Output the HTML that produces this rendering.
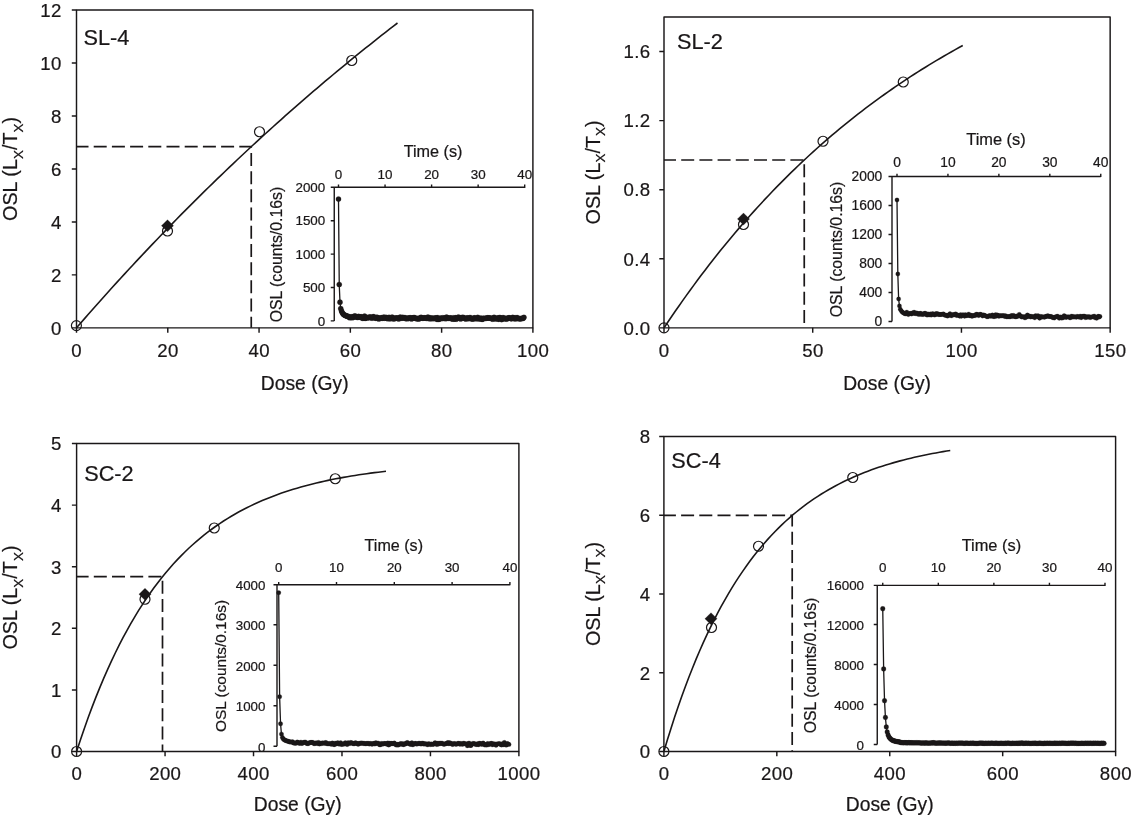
<!DOCTYPE html>
<html lang="en">
<head>
<meta charset="utf-8">
<title>OSL dose response curves</title>
<style>
html,body{margin:0;padding:0;background:#fff;}
body{width:1131px;height:816px;overflow:hidden;}
svg{display:block;}
</style>
</head>
<body>
<svg width="1131" height="816" viewBox="0 0 1131 816" font-family="'Liberation Sans', sans-serif" fill="#1a1718" stroke="#1a1718" stroke-width="0.22" stroke-linejoin="round">
<rect width="1131" height="816" fill="#fff" stroke="none"/>
<g>
<rect x="76.5" y="10" width="456.4" height="317.85" fill="none" stroke="#1a1718" stroke-width="1.45"/>
<text x="61.7" y="334.65" font-size="18.6" text-anchor="end" letter-spacing="0.4">0</text>
<text x="61.7" y="281.68" font-size="18.6" text-anchor="end" letter-spacing="0.4">2</text>
<text x="61.7" y="228.7" font-size="18.6" text-anchor="end" letter-spacing="0.4">4</text>
<text x="61.7" y="175.73" font-size="18.6" text-anchor="end" letter-spacing="0.4">6</text>
<text x="61.7" y="122.75" font-size="18.6" text-anchor="end" letter-spacing="0.4">8</text>
<text x="61.7" y="69.78" font-size="18.6" text-anchor="end" letter-spacing="0.4">10</text>
<text x="61.7" y="16.8" font-size="18.6" text-anchor="end" letter-spacing="0.4">12</text>
<text x="76.7" y="357.05" font-size="18.6" text-anchor="middle" letter-spacing="0.4">0</text>
<text x="167.98" y="357.05" font-size="18.6" text-anchor="middle" letter-spacing="0.4">20</text>
<text x="259.26" y="357.05" font-size="18.6" text-anchor="middle" letter-spacing="0.4">40</text>
<text x="350.54" y="357.05" font-size="18.6" text-anchor="middle" letter-spacing="0.4">60</text>
<text x="441.82" y="357.05" font-size="18.6" text-anchor="middle" letter-spacing="0.4">80</text>
<text x="533.1" y="357.05" font-size="18.6" text-anchor="middle" letter-spacing="0.4">100</text>
<path d="M76.5 327.85h-4.7M76.5 274.88h-4.7M76.5 221.9h-4.7M76.5 168.93h-4.7M76.5 115.95h-4.7M76.5 62.98h-4.7M76.5 10h-4.7M76.5 327.85v4.8M167.78 327.85v4.8M259.06 327.85v4.8M350.34 327.85v4.8M441.62 327.85v4.8M532.9 327.85v4.8" stroke="#1a1718" stroke-width="1.45" fill="none"/>
<text x="304.7" y="389.75" font-size="19.3" text-anchor="middle">Dose (Gy)</text>
<text transform="translate(17.2 168.93) rotate(-90)" font-size="19.8" text-anchor="middle">OSL (L<tspan font-size="13.5" dy="5.3">X</tspan><tspan dy="-5.3">/T</tspan><tspan font-size="13.5" dy="5.3">X</tspan><tspan dy="-5.3">)</tspan></text>
<text x="83.5" y="44.5" font-size="21.7" text-anchor="start">SL-4</text>
<path d="M76.5 146.7H251.25V327.85" stroke="#1a1718" stroke-width="1.7" fill="none" stroke-dasharray="13 5.2" stroke-dashoffset="1"/>
<polyline points="76.5,327.85 80.51,323.23 84.53,318.63 88.54,314.05 92.55,309.49 96.56,304.96 100.58,300.46 104.59,295.97 108.6,291.51 112.61,287.07 116.62,282.65 120.64,278.25 124.65,273.88 128.66,269.53 132.68,265.2 136.69,260.89 140.7,256.61 144.71,252.35 148.72,248.1 152.74,243.88 156.75,239.68 160.76,235.51 164.78,231.35 168.79,227.21 172.8,223.1 176.81,219 180.82,214.93 184.84,210.88 188.85,206.85 192.86,202.83 196.88,198.84 200.89,194.87 204.9,190.92 208.91,186.99 212.93,183.08 216.94,179.19 220.95,175.31 224.96,171.46 228.97,167.63 232.99,163.81 237,160.02 241.01,156.25 245.03,152.49 249.04,148.75 253.05,145.03 257.06,141.34 261.07,137.65 265.09,133.99 269.1,130.35 273.11,126.72 277.12,123.12 281.14,119.53 285.15,115.96 289.16,112.41 293.18,108.87 297.19,105.36 301.2,101.86 305.21,98.38 309.23,94.91 313.24,91.47 317.25,88.04 321.26,84.63 325.27,81.23 329.29,77.86 333.3,74.5 337.31,71.16 341.32,67.83 345.34,64.52 349.35,61.23 353.36,57.95 357.38,54.7 361.39,51.45 365.4,48.23 369.41,45.02 373.43,41.82 377.44,38.65 381.45,35.49 385.46,32.34 389.48,29.21 393.49,26.1 397.5,23" fill="none" stroke="#1a1718" stroke-width="1.6"/>
<circle cx="76.4" cy="325.6" r="5" fill="none" stroke="#1a1718" stroke-width="1.2"/>
<circle cx="167.5" cy="231" r="5" fill="none" stroke="#1a1718" stroke-width="1.2"/>
<circle cx="259.5" cy="131.75" r="5" fill="none" stroke="#1a1718" stroke-width="1.2"/>
<circle cx="351.75" cy="60.5" r="5" fill="none" stroke="#1a1718" stroke-width="1.2"/>
<path d="M161.4 225.75L167.5 219.65L173.6 225.75L167.5 231.85Z" fill="#1a1718"/>
</g>
<g>
<rect x="664" y="17" width="446.15" height="310.85" fill="none" stroke="#1a1718" stroke-width="1.45"/>
<text x="650.6" y="334.65" font-size="18.6" text-anchor="end" letter-spacing="0.4">0.0</text>
<text x="650.6" y="265.57" font-size="18.6" text-anchor="end" letter-spacing="0.4">0.4</text>
<text x="650.6" y="196.49" font-size="18.6" text-anchor="end" letter-spacing="0.4">0.8</text>
<text x="650.6" y="127.41" font-size="18.6" text-anchor="end" letter-spacing="0.4">1.2</text>
<text x="650.6" y="58.33" font-size="18.6" text-anchor="end" letter-spacing="0.4">1.6</text>
<text x="664.2" y="357.05" font-size="18.6" text-anchor="middle" letter-spacing="0.4">0</text>
<text x="812.92" y="357.05" font-size="18.6" text-anchor="middle" letter-spacing="0.4">50</text>
<text x="961.64" y="357.05" font-size="18.6" text-anchor="middle" letter-spacing="0.4">100</text>
<text x="1110.36" y="357.05" font-size="18.6" text-anchor="middle" letter-spacing="0.4">150</text>
<path d="M664 327.85h-4.7M664 258.77h-4.7M664 189.69h-4.7M664 120.61h-4.7M664 51.53h-4.7M664 327.85v4.8M812.72 327.85v4.8M961.44 327.85v4.8M1110.16 327.85v4.8" stroke="#1a1718" stroke-width="1.45" fill="none"/>
<text x="887.08" y="389.75" font-size="19.3" text-anchor="middle">Dose (Gy)</text>
<text transform="translate(599.7 172.43) rotate(-90)" font-size="19.8" text-anchor="middle">OSL (L<tspan font-size="13.5" dy="5.3">X</tspan><tspan dy="-5.3">/T</tspan><tspan font-size="13.5" dy="5.3">X</tspan><tspan dy="-5.3">)</tspan></text>
<text x="677" y="48.75" font-size="21.7" text-anchor="start">SL-2</text>
<path d="M664 160H804.25V327.85" stroke="#1a1718" stroke-width="1.7" fill="none" stroke-dasharray="13 5.2" stroke-dashoffset="1"/>
<polyline points="664,327.85 667.73,322.27 671.47,316.76 675.2,311.31 678.94,305.94 682.67,300.63 686.41,295.39 690.14,290.22 693.88,285.11 697.61,280.07 701.34,275.09 705.08,270.17 708.81,265.31 712.55,260.52 716.28,255.78 720.02,251.11 723.75,246.5 727.48,241.94 731.22,237.44 734.95,233 738.69,228.61 742.42,224.28 746.16,220 749.89,215.78 753.62,211.61 757.36,207.49 761.09,203.42 764.83,199.41 768.56,195.45 772.3,191.53 776.03,187.67 779.77,183.85 783.5,180.09 787.23,176.37 790.97,172.69 794.7,169.07 798.44,165.48 802.17,161.95 805.91,158.46 809.64,155.01 813.38,151.61 817.11,148.24 820.84,144.93 824.58,141.65 828.31,138.41 832.05,135.22 835.78,132.06 839.52,128.95 843.25,125.87 846.98,122.84 850.72,119.84 854.45,116.88 858.19,113.96 861.92,111.07 865.66,108.22 869.39,105.41 873.12,102.63 876.86,99.88 880.59,97.17 884.33,94.5 888.06,91.86 891.8,89.25 895.53,86.68 899.27,84.13 903,81.62 906.73,79.14 910.47,76.7 914.2,74.28 917.94,71.89 921.67,69.54 925.41,67.21 929.14,64.91 932.88,62.65 936.61,60.41 940.34,58.19 944.08,56.01 947.81,53.86 951.55,51.73 955.28,49.62 959.02,47.55 962.75,45.5" fill="none" stroke="#1a1718" stroke-width="1.6"/>
<circle cx="664" cy="327.85" r="5" fill="none" stroke="#1a1718" stroke-width="1.2"/>
<circle cx="743.5" cy="224.5" r="5" fill="none" stroke="#1a1718" stroke-width="1.2"/>
<circle cx="823" cy="141.25" r="5" fill="none" stroke="#1a1718" stroke-width="1.2"/>
<circle cx="903.25" cy="82" r="5" fill="none" stroke="#1a1718" stroke-width="1.2"/>
<path d="M737.4 219L743.5 212.9L749.6 219L743.5 225.1Z" fill="#1a1718"/>
</g>
<g>
<rect x="76.6" y="443.5" width="442.3" height="308" fill="none" stroke="#1a1718" stroke-width="1.45"/>
<text x="61.8" y="758.3" font-size="18.6" text-anchor="end" letter-spacing="0.4">0</text>
<text x="61.8" y="696.7" font-size="18.6" text-anchor="end" letter-spacing="0.4">1</text>
<text x="61.8" y="635.1" font-size="18.6" text-anchor="end" letter-spacing="0.4">2</text>
<text x="61.8" y="573.5" font-size="18.6" text-anchor="end" letter-spacing="0.4">3</text>
<text x="61.8" y="511.9" font-size="18.6" text-anchor="end" letter-spacing="0.4">4</text>
<text x="61.8" y="450.3" font-size="18.6" text-anchor="end" letter-spacing="0.4">5</text>
<text x="76.8" y="780.1" font-size="18.6" text-anchor="middle" letter-spacing="0.4">0</text>
<text x="165.26" y="780.1" font-size="18.6" text-anchor="middle" letter-spacing="0.4">200</text>
<text x="253.72" y="780.1" font-size="18.6" text-anchor="middle" letter-spacing="0.4">400</text>
<text x="342.18" y="780.1" font-size="18.6" text-anchor="middle" letter-spacing="0.4">600</text>
<text x="430.64" y="780.1" font-size="18.6" text-anchor="middle" letter-spacing="0.4">800</text>
<text x="519.1" y="780.1" font-size="18.6" text-anchor="middle" letter-spacing="0.4">1000</text>
<path d="M76.6 751.5h-4.7M76.6 689.9h-4.7M76.6 628.3h-4.7M76.6 566.7h-4.7M76.6 505.1h-4.7M76.6 443.5h-4.7M76.6 751.5v4.8M165.06 751.5v4.8M253.52 751.5v4.8M341.98 751.5v4.8M430.44 751.5v4.8M518.9 751.5v4.8" stroke="#1a1718" stroke-width="1.45" fill="none"/>
<text x="297.75" y="810.9" font-size="19.3" text-anchor="middle">Dose (Gy)</text>
<text transform="translate(17.2 597.5) rotate(-90)" font-size="19.8" text-anchor="middle">OSL (L<tspan font-size="13.5" dy="5.3">X</tspan><tspan dy="-5.3">/T</tspan><tspan font-size="13.5" dy="5.3">X</tspan><tspan dy="-5.3">)</tspan></text>
<text x="84.2" y="480.5" font-size="21.7" text-anchor="start">SC-2</text>
<path d="M76.6 576.7H162.5V751.5" stroke="#1a1718" stroke-width="1.7" fill="none" stroke-dasharray="13 5.2" stroke-dashoffset="1"/>
<polyline points="76.6,751.5 80.47,739.71 84.33,728.41 88.2,717.56 92.07,707.15 95.94,697.16 99.8,687.58 103.67,678.38 107.54,669.56 111.41,661.09 115.27,652.97 119.14,645.18 123.01,637.7 126.88,630.52 130.75,623.64 134.61,617.04 138.48,610.7 142.35,604.62 146.21,598.78 150.08,593.19 153.95,587.81 157.82,582.66 161.69,577.72 165.55,572.97 169.42,568.42 173.29,564.05 177.15,559.86 181.02,555.84 184.89,551.98 188.76,548.28 192.62,544.73 196.49,541.32 200.36,538.05 204.23,534.91 208.09,531.9 211.96,529.01 215.83,526.24 219.7,523.58 223.56,521.03 227.43,518.59 231.3,516.24 235.17,513.98 239.03,511.82 242.9,509.75 246.77,507.76 250.64,505.85 254.5,504.01 258.37,502.25 262.24,500.57 266.11,498.95 269.97,497.4 273.84,495.91 277.71,494.48 281.58,493.1 285.44,491.79 289.31,490.52 293.18,489.31 297.05,488.15 300.91,487.03 304.78,485.96 308.65,484.94 312.52,483.95 316.38,483.01 320.25,482.1 324.12,481.23 327.99,480.39 331.85,479.59 335.72,478.82 339.59,478.09 343.46,477.38 347.33,476.7 351.19,476.05 355.06,475.42 358.93,474.82 362.79,474.25 366.66,473.69 370.53,473.16 374.4,472.66 378.26,472.17 382.13,471.7 386,471.25" fill="none" stroke="#1a1718" stroke-width="1.6"/>
<circle cx="76.6" cy="751.5" r="5" fill="none" stroke="#1a1718" stroke-width="1.2"/>
<circle cx="145" cy="599.25" r="5" fill="none" stroke="#1a1718" stroke-width="1.2"/>
<circle cx="214.25" cy="528" r="5" fill="none" stroke="#1a1718" stroke-width="1.2"/>
<circle cx="335.25" cy="478.75" r="5" fill="none" stroke="#1a1718" stroke-width="1.2"/>
<path d="M138.9 594.25L145 588.15L151.1 594.25L145 600.35Z" fill="#1a1718"/>
</g>
<g>
<rect x="663.9" y="436.45" width="451.7" height="315.05" fill="none" stroke="#1a1718" stroke-width="1.45"/>
<text x="650.6" y="758.3" font-size="18.6" text-anchor="end" letter-spacing="0.4">0</text>
<text x="650.6" y="679.54" font-size="18.6" text-anchor="end" letter-spacing="0.4">2</text>
<text x="650.6" y="600.78" font-size="18.6" text-anchor="end" letter-spacing="0.4">4</text>
<text x="650.6" y="522.02" font-size="18.6" text-anchor="end" letter-spacing="0.4">6</text>
<text x="650.6" y="443.26" font-size="18.6" text-anchor="end" letter-spacing="0.4">8</text>
<text x="664.1" y="780.1" font-size="18.6" text-anchor="middle" letter-spacing="0.4">0</text>
<text x="777.03" y="780.1" font-size="18.6" text-anchor="middle" letter-spacing="0.4">200</text>
<text x="889.96" y="780.1" font-size="18.6" text-anchor="middle" letter-spacing="0.4">400</text>
<text x="1002.89" y="780.1" font-size="18.6" text-anchor="middle" letter-spacing="0.4">600</text>
<text x="1115.82" y="780.1" font-size="18.6" text-anchor="middle" letter-spacing="0.4">800</text>
<path d="M663.9 751.5h-4.7M663.9 672.74h-4.7M663.9 593.98h-4.7M663.9 515.22h-4.7M663.9 436.46h-4.7M663.9 751.5v4.8M776.83 751.5v4.8M889.76 751.5v4.8M1002.69 751.5v4.8M1115.62 751.5v4.8" stroke="#1a1718" stroke-width="1.45" fill="none"/>
<text x="889.75" y="810.9" font-size="19.3" text-anchor="middle">Dose (Gy)</text>
<text transform="translate(599.7 593.98) rotate(-90)" font-size="19.8" text-anchor="middle">OSL (L<tspan font-size="13.5" dy="5.3">X</tspan><tspan dy="-5.3">/T</tspan><tspan font-size="13.5" dy="5.3">X</tspan><tspan dy="-5.3">)</tspan></text>
<text x="671.3" y="467.5" font-size="21.7" text-anchor="start">SC-4</text>
<path d="M663.9 515.45H792.2V751.5" stroke="#1a1718" stroke-width="1.7" fill="none" stroke-dasharray="13 5.2" stroke-dashoffset="1"/>
<polyline points="663.9,751.5 667.48,739.59 671.06,728.14 674.64,717.11 678.22,706.51 681.8,696.3 685.38,686.47 688.96,677.02 692.53,667.93 696.11,659.17 699.69,650.75 703.27,642.65 706.85,634.85 710.43,627.34 714.01,620.12 717.59,613.17 721.17,606.49 724.75,600.05 728.33,593.86 731.91,587.9 735.49,582.17 739.07,576.65 742.65,571.35 746.23,566.24 749.8,561.32 753.38,556.59 756.96,552.04 760.54,547.66 764.12,543.44 767.7,539.39 771.28,535.49 774.86,531.73 778.44,528.12 782.02,524.64 785.6,521.29 789.18,518.07 792.76,514.98 796.34,511.99 799.92,509.12 803.5,506.36 807.08,503.71 810.65,501.15 814.23,498.69 817.81,496.32 821.39,494.05 824.97,491.85 828.55,489.74 832.13,487.71 835.71,485.76 839.29,483.88 842.87,482.07 846.45,480.33 850.03,478.66 853.61,477.05 857.19,475.5 860.77,474.01 864.35,472.57 867.92,471.19 871.5,469.86 875.08,468.58 878.66,467.35 882.24,466.16 885.82,465.02 889.4,463.93 892.98,462.87 896.56,461.86 900.14,460.88 903.72,459.94 907.3,459.03 910.88,458.16 914.46,457.32 918.04,456.52 921.62,455.74 925.19,454.99 928.77,454.28 932.35,453.58 935.93,452.92 939.51,452.28 943.09,451.66 946.67,451.07 950.25,450.5" fill="none" stroke="#1a1718" stroke-width="1.6"/>
<circle cx="663.9" cy="751.5" r="5" fill="none" stroke="#1a1718" stroke-width="1.2"/>
<circle cx="711.5" cy="627.5" r="5" fill="none" stroke="#1a1718" stroke-width="1.2"/>
<circle cx="758.5" cy="546.25" r="5" fill="none" stroke="#1a1718" stroke-width="1.2"/>
<circle cx="852.75" cy="477.5" r="5" fill="none" stroke="#1a1718" stroke-width="1.2"/>
<path d="M704.9 618.75L711 612.65L717.1 618.75L711 624.85Z" fill="#1a1718"/>
</g>
<g>
<text x="338.5" y="179.1" font-size="13.4" text-anchor="middle">0</text>
<text x="385.05" y="179.1" font-size="13.4" text-anchor="middle">10</text>
<text x="431.6" y="179.1" font-size="13.4" text-anchor="middle">20</text>
<text x="478.15" y="179.1" font-size="13.4" text-anchor="middle">30</text>
<text x="524.7" y="179.1" font-size="13.4" text-anchor="middle">40</text>
<text x="325.25" y="325.6" font-size="13.4" text-anchor="end">0</text>
<text x="325.25" y="292.2" font-size="13.4" text-anchor="end">500</text>
<text x="325.25" y="258.8" font-size="13.4" text-anchor="end">1000</text>
<text x="325.25" y="225.4" font-size="13.4" text-anchor="end">1500</text>
<text x="325.25" y="192" font-size="13.4" text-anchor="end">2000</text>
<path d="M330.75 187.3H524.7M334.25 187.3V320.9M338.5 187.9v-3.3M385.05 187.9v-3.3M431.6 187.9v-3.3M478.15 187.9v-3.3M524.7 187.9v-3.3M334.25 320.9h-3.5M334.25 287.5h-3.5M334.25 254.1h-3.5M334.25 220.7h-3.5" stroke="#1a1718" stroke-width="1.4" fill="none"/>
<text x="433.1" y="157" font-size="16.2" text-anchor="middle">Time (s)</text>
<text transform="translate(281.5 254.6) rotate(-90)" font-size="15.8" text-anchor="middle">OSL (counts/0.16s)</text>
<polyline points="338.5,198.99 339.24,284.49 339.99,302.2 340.73,308.54 341.48,310.88 342.22,312.55 342.97,313.69 343.71,314.49 344.46,315.02 345.2,315.42 345.95,315.69 346.69,315.96 347.44,316.48 348.18,316.4 348.93,316.78 349.67,317.75 350.42,317.01 351.16,317.53 351.91,316.79 352.65,317.64 353.4,316.52 354.14,316.78 354.89,315.9 355.63,316.74 356.38,316.67 357.12,317.31 357.86,317.51 358.61,316.34 359.35,317.12 360.1,316.91 360.84,317.07 361.59,316.82 362.33,318.26 363.08,318.29 363.82,317.01 364.57,316.05 365.31,318.45 366.06,317.78 366.8,317.27 367.55,317.71 368.29,317.6 369.04,317.68 369.78,316.94 370.53,317.47 371.27,317.4 372.02,318.2 372.76,317.17 373.51,316.59 374.25,317.23 375,317.78 375.74,318.32 376.48,317.37 377.23,317.4 377.97,317.8 378.72,318.98 379.46,318.13 380.21,318.33 380.95,318.23 381.7,317.6 382.44,318.34 383.19,317.9 383.93,317.05 384.68,318.23 385.42,317.85 386.17,317.47 386.91,318.19 387.66,318.7 388.4,317.72 389.15,317.38 389.89,318.87 390.64,318.08 391.38,318.18 392.13,317.19 392.87,318.83 393.62,318.08 394.36,318.78 395.1,318.52 395.85,317.96 396.59,318.18 397.34,318.08 398.08,318.41 398.83,318.9 399.57,317.5 400.32,317.19 401.06,318.05 401.81,318.24 402.55,317.31 403.3,317.77 404.04,317.92 404.79,317.56 405.53,318.58 406.28,318.56 407.02,318.04 407.77,318.74 408.51,318.09 409.26,317.98 410,317.8 410.75,317.84 411.49,318.92 412.24,318.22 412.98,317.96 413.72,317.58 414.47,317.61 415.21,318.32 415.96,318.29 416.7,318.84 417.45,318.45 418.19,318.65 418.94,318.94 419.68,318.38 420.43,317.64 421.17,317.34 421.92,318.05 422.66,318.29 423.41,318.04 424.15,317.79 424.9,317.94 425.64,318.02 426.39,318.36 427.13,318.41 427.88,317.02 428.62,317.68 429.37,318.75 430.11,317.83 430.86,318.7 431.6,318.14 432.34,318.57 433.09,318.13 433.83,318.59 434.58,318.44 435.32,318.02 436.07,317.96 436.81,319.31 437.56,317.61 438.3,319.49 439.05,319.13 439.79,318.6 440.54,318.03 441.28,318.36 442.03,318.62 442.77,317.75 443.52,318.29 444.26,318.35 445.01,317.87 445.75,318.72 446.5,317.12 447.24,317.62 447.99,318.34 448.73,318.3 449.48,318.24 450.22,317.92 450.96,318.1 451.71,318.79 452.45,318.91 453.2,317.73 453.94,319.12 454.69,318.81 455.43,317.69 456.18,319.15 456.92,318.04 457.67,317.75 458.41,317 459.16,317.61 459.9,318.24 460.65,318.93 461.39,317.58 462.14,317.66 462.88,317.47 463.63,317.49 464.37,318.34 465.12,318.55 465.86,318.97 466.61,318.13 467.35,317.9 468.1,318.72 468.84,318.25 469.58,317.83 470.33,317.51 471.07,318.78 471.82,318.51 472.56,318.92 473.31,318.92 474.05,317.92 474.8,317.85 475.54,318.61 476.29,318.52 477.03,318.73 477.78,317.38 478.52,318.73 479.27,318.58 480.01,318.86 480.76,318.03 481.5,318.68 482.25,319.43 482.99,318.26 483.74,318.32 484.48,318.51 485.23,318.37 485.97,318.27 486.72,318.2 487.46,317.78 488.2,318.02 488.95,317.85 489.69,318.03 490.44,318.13 491.18,318.48 491.93,318.38 492.67,319.13 493.42,317.79 494.16,317.28 494.91,318.47 495.65,318.95 496.4,318.24 497.14,318.59 497.89,317.91 498.63,319.32 499.38,317.55 500.12,317.64 500.87,318.18 501.61,319.59 502.36,318.61 503.1,317.58 503.85,318.35 504.59,318.92 505.34,318.35 506.08,318.42 506.82,319.11 507.57,318.47 508.31,317.91 509.06,317.91 509.8,317.87 510.55,318.25 511.29,318.81 512.04,318.47 512.78,317.34 513.53,318.11 514.27,318.02 515.02,319.02 515.76,317.81 516.51,318.33 517.25,317.56 518,318.66 518.74,318.51 519.49,318.59 520.23,318.8 520.98,318.64 521.72,318.38 522.47,318.46 523.21,318.27 523.96,317.37" fill="none" stroke="#1a1718" stroke-width="1.3"/>
<g fill="#1a1718">
<circle cx="338.5" cy="198.99" r="2.6"/>
<circle cx="339.24" cy="284.49" r="2.6"/>
<circle cx="339.99" cy="302.2" r="2.6"/>
<circle cx="340.73" cy="308.54" r="2.6"/>
<circle cx="341.48" cy="310.88" r="2.6"/>
<circle cx="342.22" cy="312.55" r="2.6"/>
<circle cx="342.97" cy="313.69" r="2.6"/>
<circle cx="343.71" cy="314.49" r="2.6"/>
<circle cx="344.46" cy="315.02" r="2.6"/>
<circle cx="345.2" cy="315.42" r="2.6"/>
<circle cx="345.95" cy="315.69" r="2.6"/>
<circle cx="346.69" cy="315.96" r="2.6"/>
<circle cx="347.44" cy="316.48" r="2.6"/>
<circle cx="348.18" cy="316.4" r="2.6"/>
<circle cx="348.93" cy="316.78" r="2.6"/>
<circle cx="349.67" cy="317.75" r="2.6"/>
<circle cx="350.42" cy="317.01" r="2.6"/>
<circle cx="351.16" cy="317.53" r="2.6"/>
<circle cx="351.91" cy="316.79" r="2.6"/>
<circle cx="352.65" cy="317.64" r="2.6"/>
<circle cx="353.4" cy="316.52" r="2.6"/>
<circle cx="354.14" cy="316.78" r="2.6"/>
<circle cx="354.89" cy="315.9" r="2.6"/>
<circle cx="355.63" cy="316.74" r="2.6"/>
<circle cx="356.38" cy="316.67" r="2.6"/>
<circle cx="357.12" cy="317.31" r="2.6"/>
<circle cx="357.86" cy="317.51" r="2.6"/>
<circle cx="358.61" cy="316.34" r="2.6"/>
<circle cx="359.35" cy="317.12" r="2.6"/>
<circle cx="360.1" cy="316.91" r="2.6"/>
<circle cx="360.84" cy="317.07" r="2.6"/>
<circle cx="361.59" cy="316.82" r="2.6"/>
<circle cx="362.33" cy="318.26" r="2.6"/>
<circle cx="363.08" cy="318.29" r="2.6"/>
<circle cx="363.82" cy="317.01" r="2.6"/>
<circle cx="364.57" cy="316.05" r="2.6"/>
<circle cx="365.31" cy="318.45" r="2.6"/>
<circle cx="366.06" cy="317.78" r="2.6"/>
<circle cx="366.8" cy="317.27" r="2.6"/>
<circle cx="367.55" cy="317.71" r="2.6"/>
<circle cx="368.29" cy="317.6" r="2.6"/>
<circle cx="369.04" cy="317.68" r="2.6"/>
<circle cx="369.78" cy="316.94" r="2.6"/>
<circle cx="370.53" cy="317.47" r="2.6"/>
<circle cx="371.27" cy="317.4" r="2.6"/>
<circle cx="372.02" cy="318.2" r="2.6"/>
<circle cx="372.76" cy="317.17" r="2.6"/>
<circle cx="373.51" cy="316.59" r="2.6"/>
<circle cx="374.25" cy="317.23" r="2.6"/>
<circle cx="375" cy="317.78" r="2.6"/>
<circle cx="375.74" cy="318.32" r="2.6"/>
<circle cx="376.48" cy="317.37" r="2.6"/>
<circle cx="377.23" cy="317.4" r="2.6"/>
<circle cx="377.97" cy="317.8" r="2.6"/>
<circle cx="378.72" cy="318.98" r="2.6"/>
<circle cx="379.46" cy="318.13" r="2.6"/>
<circle cx="380.21" cy="318.33" r="2.6"/>
<circle cx="380.95" cy="318.23" r="2.6"/>
<circle cx="381.7" cy="317.6" r="2.6"/>
<circle cx="382.44" cy="318.34" r="2.6"/>
<circle cx="383.19" cy="317.9" r="2.6"/>
<circle cx="383.93" cy="317.05" r="2.6"/>
<circle cx="384.68" cy="318.23" r="2.6"/>
<circle cx="385.42" cy="317.85" r="2.6"/>
<circle cx="386.17" cy="317.47" r="2.6"/>
<circle cx="386.91" cy="318.19" r="2.6"/>
<circle cx="387.66" cy="318.7" r="2.6"/>
<circle cx="388.4" cy="317.72" r="2.6"/>
<circle cx="389.15" cy="317.38" r="2.6"/>
<circle cx="389.89" cy="318.87" r="2.6"/>
<circle cx="390.64" cy="318.08" r="2.6"/>
<circle cx="391.38" cy="318.18" r="2.6"/>
<circle cx="392.13" cy="317.19" r="2.6"/>
<circle cx="392.87" cy="318.83" r="2.6"/>
<circle cx="393.62" cy="318.08" r="2.6"/>
<circle cx="394.36" cy="318.78" r="2.6"/>
<circle cx="395.1" cy="318.52" r="2.6"/>
<circle cx="395.85" cy="317.96" r="2.6"/>
<circle cx="396.59" cy="318.18" r="2.6"/>
<circle cx="397.34" cy="318.08" r="2.6"/>
<circle cx="398.08" cy="318.41" r="2.6"/>
<circle cx="398.83" cy="318.9" r="2.6"/>
<circle cx="399.57" cy="317.5" r="2.6"/>
<circle cx="400.32" cy="317.19" r="2.6"/>
<circle cx="401.06" cy="318.05" r="2.6"/>
<circle cx="401.81" cy="318.24" r="2.6"/>
<circle cx="402.55" cy="317.31" r="2.6"/>
<circle cx="403.3" cy="317.77" r="2.6"/>
<circle cx="404.04" cy="317.92" r="2.6"/>
<circle cx="404.79" cy="317.56" r="2.6"/>
<circle cx="405.53" cy="318.58" r="2.6"/>
<circle cx="406.28" cy="318.56" r="2.6"/>
<circle cx="407.02" cy="318.04" r="2.6"/>
<circle cx="407.77" cy="318.74" r="2.6"/>
<circle cx="408.51" cy="318.09" r="2.6"/>
<circle cx="409.26" cy="317.98" r="2.6"/>
<circle cx="410" cy="317.8" r="2.6"/>
<circle cx="410.75" cy="317.84" r="2.6"/>
<circle cx="411.49" cy="318.92" r="2.6"/>
<circle cx="412.24" cy="318.22" r="2.6"/>
<circle cx="412.98" cy="317.96" r="2.6"/>
<circle cx="413.72" cy="317.58" r="2.6"/>
<circle cx="414.47" cy="317.61" r="2.6"/>
<circle cx="415.21" cy="318.32" r="2.6"/>
<circle cx="415.96" cy="318.29" r="2.6"/>
<circle cx="416.7" cy="318.84" r="2.6"/>
<circle cx="417.45" cy="318.45" r="2.6"/>
<circle cx="418.19" cy="318.65" r="2.6"/>
<circle cx="418.94" cy="318.94" r="2.6"/>
<circle cx="419.68" cy="318.38" r="2.6"/>
<circle cx="420.43" cy="317.64" r="2.6"/>
<circle cx="421.17" cy="317.34" r="2.6"/>
<circle cx="421.92" cy="318.05" r="2.6"/>
<circle cx="422.66" cy="318.29" r="2.6"/>
<circle cx="423.41" cy="318.04" r="2.6"/>
<circle cx="424.15" cy="317.79" r="2.6"/>
<circle cx="424.9" cy="317.94" r="2.6"/>
<circle cx="425.64" cy="318.02" r="2.6"/>
<circle cx="426.39" cy="318.36" r="2.6"/>
<circle cx="427.13" cy="318.41" r="2.6"/>
<circle cx="427.88" cy="317.02" r="2.6"/>
<circle cx="428.62" cy="317.68" r="2.6"/>
<circle cx="429.37" cy="318.75" r="2.6"/>
<circle cx="430.11" cy="317.83" r="2.6"/>
<circle cx="430.86" cy="318.7" r="2.6"/>
<circle cx="431.6" cy="318.14" r="2.6"/>
<circle cx="432.34" cy="318.57" r="2.6"/>
<circle cx="433.09" cy="318.13" r="2.6"/>
<circle cx="433.83" cy="318.59" r="2.6"/>
<circle cx="434.58" cy="318.44" r="2.6"/>
<circle cx="435.32" cy="318.02" r="2.6"/>
<circle cx="436.07" cy="317.96" r="2.6"/>
<circle cx="436.81" cy="319.31" r="2.6"/>
<circle cx="437.56" cy="317.61" r="2.6"/>
<circle cx="438.3" cy="319.49" r="2.6"/>
<circle cx="439.05" cy="319.13" r="2.6"/>
<circle cx="439.79" cy="318.6" r="2.6"/>
<circle cx="440.54" cy="318.03" r="2.6"/>
<circle cx="441.28" cy="318.36" r="2.6"/>
<circle cx="442.03" cy="318.62" r="2.6"/>
<circle cx="442.77" cy="317.75" r="2.6"/>
<circle cx="443.52" cy="318.29" r="2.6"/>
<circle cx="444.26" cy="318.35" r="2.6"/>
<circle cx="445.01" cy="317.87" r="2.6"/>
<circle cx="445.75" cy="318.72" r="2.6"/>
<circle cx="446.5" cy="317.12" r="2.6"/>
<circle cx="447.24" cy="317.62" r="2.6"/>
<circle cx="447.99" cy="318.34" r="2.6"/>
<circle cx="448.73" cy="318.3" r="2.6"/>
<circle cx="449.48" cy="318.24" r="2.6"/>
<circle cx="450.22" cy="317.92" r="2.6"/>
<circle cx="450.96" cy="318.1" r="2.6"/>
<circle cx="451.71" cy="318.79" r="2.6"/>
<circle cx="452.45" cy="318.91" r="2.6"/>
<circle cx="453.2" cy="317.73" r="2.6"/>
<circle cx="453.94" cy="319.12" r="2.6"/>
<circle cx="454.69" cy="318.81" r="2.6"/>
<circle cx="455.43" cy="317.69" r="2.6"/>
<circle cx="456.18" cy="319.15" r="2.6"/>
<circle cx="456.92" cy="318.04" r="2.6"/>
<circle cx="457.67" cy="317.75" r="2.6"/>
<circle cx="458.41" cy="317" r="2.6"/>
<circle cx="459.16" cy="317.61" r="2.6"/>
<circle cx="459.9" cy="318.24" r="2.6"/>
<circle cx="460.65" cy="318.93" r="2.6"/>
<circle cx="461.39" cy="317.58" r="2.6"/>
<circle cx="462.14" cy="317.66" r="2.6"/>
<circle cx="462.88" cy="317.47" r="2.6"/>
<circle cx="463.63" cy="317.49" r="2.6"/>
<circle cx="464.37" cy="318.34" r="2.6"/>
<circle cx="465.12" cy="318.55" r="2.6"/>
<circle cx="465.86" cy="318.97" r="2.6"/>
<circle cx="466.61" cy="318.13" r="2.6"/>
<circle cx="467.35" cy="317.9" r="2.6"/>
<circle cx="468.1" cy="318.72" r="2.6"/>
<circle cx="468.84" cy="318.25" r="2.6"/>
<circle cx="469.58" cy="317.83" r="2.6"/>
<circle cx="470.33" cy="317.51" r="2.6"/>
<circle cx="471.07" cy="318.78" r="2.6"/>
<circle cx="471.82" cy="318.51" r="2.6"/>
<circle cx="472.56" cy="318.92" r="2.6"/>
<circle cx="473.31" cy="318.92" r="2.6"/>
<circle cx="474.05" cy="317.92" r="2.6"/>
<circle cx="474.8" cy="317.85" r="2.6"/>
<circle cx="475.54" cy="318.61" r="2.6"/>
<circle cx="476.29" cy="318.52" r="2.6"/>
<circle cx="477.03" cy="318.73" r="2.6"/>
<circle cx="477.78" cy="317.38" r="2.6"/>
<circle cx="478.52" cy="318.73" r="2.6"/>
<circle cx="479.27" cy="318.58" r="2.6"/>
<circle cx="480.01" cy="318.86" r="2.6"/>
<circle cx="480.76" cy="318.03" r="2.6"/>
<circle cx="481.5" cy="318.68" r="2.6"/>
<circle cx="482.25" cy="319.43" r="2.6"/>
<circle cx="482.99" cy="318.26" r="2.6"/>
<circle cx="483.74" cy="318.32" r="2.6"/>
<circle cx="484.48" cy="318.51" r="2.6"/>
<circle cx="485.23" cy="318.37" r="2.6"/>
<circle cx="485.97" cy="318.27" r="2.6"/>
<circle cx="486.72" cy="318.2" r="2.6"/>
<circle cx="487.46" cy="317.78" r="2.6"/>
<circle cx="488.2" cy="318.02" r="2.6"/>
<circle cx="488.95" cy="317.85" r="2.6"/>
<circle cx="489.69" cy="318.03" r="2.6"/>
<circle cx="490.44" cy="318.13" r="2.6"/>
<circle cx="491.18" cy="318.48" r="2.6"/>
<circle cx="491.93" cy="318.38" r="2.6"/>
<circle cx="492.67" cy="319.13" r="2.6"/>
<circle cx="493.42" cy="317.79" r="2.6"/>
<circle cx="494.16" cy="317.28" r="2.6"/>
<circle cx="494.91" cy="318.47" r="2.6"/>
<circle cx="495.65" cy="318.95" r="2.6"/>
<circle cx="496.4" cy="318.24" r="2.6"/>
<circle cx="497.14" cy="318.59" r="2.6"/>
<circle cx="497.89" cy="317.91" r="2.6"/>
<circle cx="498.63" cy="319.32" r="2.6"/>
<circle cx="499.38" cy="317.55" r="2.6"/>
<circle cx="500.12" cy="317.64" r="2.6"/>
<circle cx="500.87" cy="318.18" r="2.6"/>
<circle cx="501.61" cy="319.59" r="2.6"/>
<circle cx="502.36" cy="318.61" r="2.6"/>
<circle cx="503.1" cy="317.58" r="2.6"/>
<circle cx="503.85" cy="318.35" r="2.6"/>
<circle cx="504.59" cy="318.92" r="2.6"/>
<circle cx="505.34" cy="318.35" r="2.6"/>
<circle cx="506.08" cy="318.42" r="2.6"/>
<circle cx="506.82" cy="319.11" r="2.6"/>
<circle cx="507.57" cy="318.47" r="2.6"/>
<circle cx="508.31" cy="317.91" r="2.6"/>
<circle cx="509.06" cy="317.91" r="2.6"/>
<circle cx="509.8" cy="317.87" r="2.6"/>
<circle cx="510.55" cy="318.25" r="2.6"/>
<circle cx="511.29" cy="318.81" r="2.6"/>
<circle cx="512.04" cy="318.47" r="2.6"/>
<circle cx="512.78" cy="317.34" r="2.6"/>
<circle cx="513.53" cy="318.11" r="2.6"/>
<circle cx="514.27" cy="318.02" r="2.6"/>
<circle cx="515.02" cy="319.02" r="2.6"/>
<circle cx="515.76" cy="317.81" r="2.6"/>
<circle cx="516.51" cy="318.33" r="2.6"/>
<circle cx="517.25" cy="317.56" r="2.6"/>
<circle cx="518" cy="318.66" r="2.6"/>
<circle cx="518.74" cy="318.51" r="2.6"/>
<circle cx="519.49" cy="318.59" r="2.6"/>
<circle cx="520.23" cy="318.8" r="2.6"/>
<circle cx="520.98" cy="318.64" r="2.6"/>
<circle cx="521.72" cy="318.38" r="2.6"/>
<circle cx="522.47" cy="318.46" r="2.6"/>
<circle cx="523.21" cy="318.27" r="2.6"/>
<circle cx="523.96" cy="317.37" r="2.6"/>
</g>
</g>
<g>
<text x="897" y="167.3" font-size="13.8" text-anchor="middle">0</text>
<text x="947.94" y="167.3" font-size="13.8" text-anchor="middle">10</text>
<text x="998.88" y="167.3" font-size="13.8" text-anchor="middle">20</text>
<text x="1049.82" y="167.3" font-size="13.8" text-anchor="middle">30</text>
<text x="1100.76" y="167.3" font-size="13.8" text-anchor="middle">40</text>
<text x="882.3" y="326.2" font-size="13.8" text-anchor="end">0</text>
<text x="882.3" y="297.2" font-size="13.8" text-anchor="end">400</text>
<text x="882.3" y="268.2" font-size="13.8" text-anchor="end">800</text>
<text x="882.3" y="239.2" font-size="13.8" text-anchor="end">1200</text>
<text x="882.3" y="210.2" font-size="13.8" text-anchor="end">1600</text>
<text x="882.3" y="181.2" font-size="13.8" text-anchor="end">2000</text>
<path d="M888.5 176.5H1100.76M892 176.5V321.5M897 177.1v-3.3M947.94 177.1v-3.3M998.88 177.1v-3.3M1049.82 177.1v-3.3M1100.76 177.1v-3.3M892 321.5h-3.5M892 292.5h-3.5M892 263.5h-3.5M892 234.5h-3.5M892 205.5h-3.5" stroke="#1a1718" stroke-width="1.4" fill="none"/>
<text x="995.98" y="144.9" font-size="16.4" text-anchor="middle">Time (s)</text>
<text transform="translate(842.3 249.5) rotate(-90)" font-size="15.8" text-anchor="middle">OSL (counts/0.16s)</text>
<polyline points="897,199.99 897.82,274.01 898.63,299.02 899.45,305.91 900.26,309.18 901.08,310.62 901.89,311.71 902.71,312.44 903.52,312.94 904.34,313.38 905.15,313.91 905.97,313.77 906.78,312.14 907.6,313.94 908.41,314.59 909.23,313.48 910.04,313.6 910.86,313.28 911.67,314 912.49,312.81 913.3,313.41 914.12,312.15 914.93,313.48 915.75,313.71 916.56,312.97 917.38,313.36 918.19,314.47 919.01,313.45 919.82,314.46 920.64,313.23 921.45,314.45 922.27,313.85 923.08,314.63 923.9,313.92 924.71,313.25 925.53,313.43 926.34,314.64 927.16,315.13 927.97,313.8 928.79,314.75 929.6,314.83 930.42,313.88 931.23,315.18 932.05,313.86 932.86,313.7 933.68,314.42 934.49,315.06 935.31,314.63 936.12,313.51 936.94,314.41 937.75,313.73 938.57,314.54 939.38,314.52 940.2,314.49 941.01,314.56 941.83,314.46 942.64,314.13 943.46,313.92 944.27,314.83 945.09,315.38 945.9,315.22 946.72,315.42 947.53,316.17 948.35,314.84 949.16,315.37 949.98,313.68 950.79,315.28 951.61,315.86 952.42,314.69 953.24,314.97 954.05,314.41 954.87,314.9 955.68,313.79 956.5,315.51 957.31,314.91 958.13,315.38 958.94,315.43 959.76,316.23 960.57,314.74 961.39,316.26 962.2,314.94 963.02,314.91 963.83,314.96 964.65,316.29 965.46,314.73 966.28,315.74 967.09,315.04 967.91,315.57 968.72,314.05 969.54,315.73 970.35,315.52 971.17,315.2 971.98,316.38 972.8,315.75 973.61,315.6 974.43,315.3 975.24,315.72 976.06,314.32 976.87,314.24 977.69,314.73 978.5,315.57 979.32,315.15 980.13,314.21 980.95,314.43 981.76,315.17 982.58,315.99 983.39,314.89 984.21,315.15 985.02,315.63 985.84,315.79 986.65,316.6 987.47,316.71 988.28,316.59 989.1,315.57 989.91,315.64 990.73,316.27 991.54,315.97 992.36,314.9 993.17,316.63 993.99,316.14 994.8,316.67 995.62,314.59 996.43,316.16 997.25,314.99 998.06,315.44 998.88,316.38 999.7,315.55 1000.51,315.85 1001.33,315.68 1002.14,315.88 1002.96,315.61 1003.77,315.65 1004.59,316.56 1005.4,315.57 1006.22,316.6 1007.03,316.96 1007.85,316.37 1008.66,316.72 1009.48,316.59 1010.29,316.88 1011.11,315.62 1011.92,315.61 1012.74,316.62 1013.55,315.34 1014.37,316.29 1015.18,316.74 1016,316.93 1016.81,316 1017.63,316.35 1018.44,316.13 1019.26,314.37 1020.07,315.71 1020.89,316.39 1021.7,317.06 1022.52,316.63 1023.33,316.83 1024.15,316.79 1024.96,317.96 1025.78,316.32 1026.59,317.16 1027.41,314.98 1028.22,316.61 1029.04,315.85 1029.85,316.25 1030.67,317 1031.48,316.36 1032.3,316.79 1033.11,316.78 1033.93,316.57 1034.74,317.85 1035.56,315.64 1036.37,316.2 1037.19,316.69 1038,315.68 1038.82,317.26 1039.63,318.29 1040.45,316.46 1041.26,317.22 1042.08,316.71 1042.89,317.04 1043.71,316.84 1044.52,317.35 1045.34,316.75 1046.15,316.24 1046.97,316.48 1047.78,315.6 1048.6,316.36 1049.41,316.49 1050.23,316.63 1051.04,316.42 1051.86,316.9 1052.67,317.66 1053.49,317.52 1054.3,318.02 1055.12,317 1055.93,316.78 1056.75,316.56 1057.56,316.13 1058.38,317.19 1059.19,318.31 1060.01,317.36 1060.82,316.93 1061.64,318.18 1062.45,317.76 1063.27,317.68 1064.08,315.63 1064.9,316.24 1065.71,317.44 1066.53,317.31 1067.34,316.93 1068.16,316.84 1068.97,316.87 1069.79,317.79 1070.6,317.68 1071.42,316.14 1072.23,317.07 1073.05,316.38 1073.86,317.07 1074.68,316.9 1075.49,316.89 1076.31,317.26 1077.12,316.3 1077.94,316.55 1078.75,317.15 1079.57,317.01 1080.38,316.08 1081.2,317.76 1082.01,316.6 1082.83,316.4 1083.64,316.11 1084.46,316.2 1085.27,317.7 1086.09,316.64 1086.9,317.41 1087.72,316.65 1088.53,317.09 1089.35,316.62 1090.16,317.66 1090.98,317.11 1091.79,316.88 1092.61,316.88 1093.42,316.64 1094.24,316.04 1095.05,317.87 1095.87,317.22 1096.68,318.37 1097.5,316.87 1098.31,316.24 1099.13,317.17 1099.94,316.52" fill="none" stroke="#1a1718" stroke-width="1.3"/>
<g fill="#1a1718">
<circle cx="897" cy="199.99" r="2.15"/>
<circle cx="897.82" cy="274.01" r="2.15"/>
<circle cx="898.63" cy="299.02" r="2.15"/>
<circle cx="899.45" cy="305.91" r="2.15"/>
<circle cx="900.26" cy="309.18" r="2.15"/>
<circle cx="901.08" cy="310.62" r="2.15"/>
<circle cx="901.89" cy="311.71" r="2.15"/>
<circle cx="902.71" cy="312.44" r="2.15"/>
<circle cx="903.52" cy="312.94" r="2.15"/>
<circle cx="904.34" cy="313.38" r="2.15"/>
<circle cx="905.15" cy="313.91" r="2.15"/>
<circle cx="905.97" cy="313.77" r="2.15"/>
<circle cx="906.78" cy="312.14" r="2.15"/>
<circle cx="907.6" cy="313.94" r="2.15"/>
<circle cx="908.41" cy="314.59" r="2.15"/>
<circle cx="909.23" cy="313.48" r="2.15"/>
<circle cx="910.04" cy="313.6" r="2.15"/>
<circle cx="910.86" cy="313.28" r="2.15"/>
<circle cx="911.67" cy="314" r="2.15"/>
<circle cx="912.49" cy="312.81" r="2.15"/>
<circle cx="913.3" cy="313.41" r="2.15"/>
<circle cx="914.12" cy="312.15" r="2.15"/>
<circle cx="914.93" cy="313.48" r="2.15"/>
<circle cx="915.75" cy="313.71" r="2.15"/>
<circle cx="916.56" cy="312.97" r="2.15"/>
<circle cx="917.38" cy="313.36" r="2.15"/>
<circle cx="918.19" cy="314.47" r="2.15"/>
<circle cx="919.01" cy="313.45" r="2.15"/>
<circle cx="919.82" cy="314.46" r="2.15"/>
<circle cx="920.64" cy="313.23" r="2.15"/>
<circle cx="921.45" cy="314.45" r="2.15"/>
<circle cx="922.27" cy="313.85" r="2.15"/>
<circle cx="923.08" cy="314.63" r="2.15"/>
<circle cx="923.9" cy="313.92" r="2.15"/>
<circle cx="924.71" cy="313.25" r="2.15"/>
<circle cx="925.53" cy="313.43" r="2.15"/>
<circle cx="926.34" cy="314.64" r="2.15"/>
<circle cx="927.16" cy="315.13" r="2.15"/>
<circle cx="927.97" cy="313.8" r="2.15"/>
<circle cx="928.79" cy="314.75" r="2.15"/>
<circle cx="929.6" cy="314.83" r="2.15"/>
<circle cx="930.42" cy="313.88" r="2.15"/>
<circle cx="931.23" cy="315.18" r="2.15"/>
<circle cx="932.05" cy="313.86" r="2.15"/>
<circle cx="932.86" cy="313.7" r="2.15"/>
<circle cx="933.68" cy="314.42" r="2.15"/>
<circle cx="934.49" cy="315.06" r="2.15"/>
<circle cx="935.31" cy="314.63" r="2.15"/>
<circle cx="936.12" cy="313.51" r="2.15"/>
<circle cx="936.94" cy="314.41" r="2.15"/>
<circle cx="937.75" cy="313.73" r="2.15"/>
<circle cx="938.57" cy="314.54" r="2.15"/>
<circle cx="939.38" cy="314.52" r="2.15"/>
<circle cx="940.2" cy="314.49" r="2.15"/>
<circle cx="941.01" cy="314.56" r="2.15"/>
<circle cx="941.83" cy="314.46" r="2.15"/>
<circle cx="942.64" cy="314.13" r="2.15"/>
<circle cx="943.46" cy="313.92" r="2.15"/>
<circle cx="944.27" cy="314.83" r="2.15"/>
<circle cx="945.09" cy="315.38" r="2.15"/>
<circle cx="945.9" cy="315.22" r="2.15"/>
<circle cx="946.72" cy="315.42" r="2.15"/>
<circle cx="947.53" cy="316.17" r="2.15"/>
<circle cx="948.35" cy="314.84" r="2.15"/>
<circle cx="949.16" cy="315.37" r="2.15"/>
<circle cx="949.98" cy="313.68" r="2.15"/>
<circle cx="950.79" cy="315.28" r="2.15"/>
<circle cx="951.61" cy="315.86" r="2.15"/>
<circle cx="952.42" cy="314.69" r="2.15"/>
<circle cx="953.24" cy="314.97" r="2.15"/>
<circle cx="954.05" cy="314.41" r="2.15"/>
<circle cx="954.87" cy="314.9" r="2.15"/>
<circle cx="955.68" cy="313.79" r="2.15"/>
<circle cx="956.5" cy="315.51" r="2.15"/>
<circle cx="957.31" cy="314.91" r="2.15"/>
<circle cx="958.13" cy="315.38" r="2.15"/>
<circle cx="958.94" cy="315.43" r="2.15"/>
<circle cx="959.76" cy="316.23" r="2.15"/>
<circle cx="960.57" cy="314.74" r="2.15"/>
<circle cx="961.39" cy="316.26" r="2.15"/>
<circle cx="962.2" cy="314.94" r="2.15"/>
<circle cx="963.02" cy="314.91" r="2.15"/>
<circle cx="963.83" cy="314.96" r="2.15"/>
<circle cx="964.65" cy="316.29" r="2.15"/>
<circle cx="965.46" cy="314.73" r="2.15"/>
<circle cx="966.28" cy="315.74" r="2.15"/>
<circle cx="967.09" cy="315.04" r="2.15"/>
<circle cx="967.91" cy="315.57" r="2.15"/>
<circle cx="968.72" cy="314.05" r="2.15"/>
<circle cx="969.54" cy="315.73" r="2.15"/>
<circle cx="970.35" cy="315.52" r="2.15"/>
<circle cx="971.17" cy="315.2" r="2.15"/>
<circle cx="971.98" cy="316.38" r="2.15"/>
<circle cx="972.8" cy="315.75" r="2.15"/>
<circle cx="973.61" cy="315.6" r="2.15"/>
<circle cx="974.43" cy="315.3" r="2.15"/>
<circle cx="975.24" cy="315.72" r="2.15"/>
<circle cx="976.06" cy="314.32" r="2.15"/>
<circle cx="976.87" cy="314.24" r="2.15"/>
<circle cx="977.69" cy="314.73" r="2.15"/>
<circle cx="978.5" cy="315.57" r="2.15"/>
<circle cx="979.32" cy="315.15" r="2.15"/>
<circle cx="980.13" cy="314.21" r="2.15"/>
<circle cx="980.95" cy="314.43" r="2.15"/>
<circle cx="981.76" cy="315.17" r="2.15"/>
<circle cx="982.58" cy="315.99" r="2.15"/>
<circle cx="983.39" cy="314.89" r="2.15"/>
<circle cx="984.21" cy="315.15" r="2.15"/>
<circle cx="985.02" cy="315.63" r="2.15"/>
<circle cx="985.84" cy="315.79" r="2.15"/>
<circle cx="986.65" cy="316.6" r="2.15"/>
<circle cx="987.47" cy="316.71" r="2.15"/>
<circle cx="988.28" cy="316.59" r="2.15"/>
<circle cx="989.1" cy="315.57" r="2.15"/>
<circle cx="989.91" cy="315.64" r="2.15"/>
<circle cx="990.73" cy="316.27" r="2.15"/>
<circle cx="991.54" cy="315.97" r="2.15"/>
<circle cx="992.36" cy="314.9" r="2.15"/>
<circle cx="993.17" cy="316.63" r="2.15"/>
<circle cx="993.99" cy="316.14" r="2.15"/>
<circle cx="994.8" cy="316.67" r="2.15"/>
<circle cx="995.62" cy="314.59" r="2.15"/>
<circle cx="996.43" cy="316.16" r="2.15"/>
<circle cx="997.25" cy="314.99" r="2.15"/>
<circle cx="998.06" cy="315.44" r="2.15"/>
<circle cx="998.88" cy="316.38" r="2.15"/>
<circle cx="999.7" cy="315.55" r="2.15"/>
<circle cx="1000.51" cy="315.85" r="2.15"/>
<circle cx="1001.33" cy="315.68" r="2.15"/>
<circle cx="1002.14" cy="315.88" r="2.15"/>
<circle cx="1002.96" cy="315.61" r="2.15"/>
<circle cx="1003.77" cy="315.65" r="2.15"/>
<circle cx="1004.59" cy="316.56" r="2.15"/>
<circle cx="1005.4" cy="315.57" r="2.15"/>
<circle cx="1006.22" cy="316.6" r="2.15"/>
<circle cx="1007.03" cy="316.96" r="2.15"/>
<circle cx="1007.85" cy="316.37" r="2.15"/>
<circle cx="1008.66" cy="316.72" r="2.15"/>
<circle cx="1009.48" cy="316.59" r="2.15"/>
<circle cx="1010.29" cy="316.88" r="2.15"/>
<circle cx="1011.11" cy="315.62" r="2.15"/>
<circle cx="1011.92" cy="315.61" r="2.15"/>
<circle cx="1012.74" cy="316.62" r="2.15"/>
<circle cx="1013.55" cy="315.34" r="2.15"/>
<circle cx="1014.37" cy="316.29" r="2.15"/>
<circle cx="1015.18" cy="316.74" r="2.15"/>
<circle cx="1016" cy="316.93" r="2.15"/>
<circle cx="1016.81" cy="316" r="2.15"/>
<circle cx="1017.63" cy="316.35" r="2.15"/>
<circle cx="1018.44" cy="316.13" r="2.15"/>
<circle cx="1019.26" cy="314.37" r="2.15"/>
<circle cx="1020.07" cy="315.71" r="2.15"/>
<circle cx="1020.89" cy="316.39" r="2.15"/>
<circle cx="1021.7" cy="317.06" r="2.15"/>
<circle cx="1022.52" cy="316.63" r="2.15"/>
<circle cx="1023.33" cy="316.83" r="2.15"/>
<circle cx="1024.15" cy="316.79" r="2.15"/>
<circle cx="1024.96" cy="317.96" r="2.15"/>
<circle cx="1025.78" cy="316.32" r="2.15"/>
<circle cx="1026.59" cy="317.16" r="2.15"/>
<circle cx="1027.41" cy="314.98" r="2.15"/>
<circle cx="1028.22" cy="316.61" r="2.15"/>
<circle cx="1029.04" cy="315.85" r="2.15"/>
<circle cx="1029.85" cy="316.25" r="2.15"/>
<circle cx="1030.67" cy="317" r="2.15"/>
<circle cx="1031.48" cy="316.36" r="2.15"/>
<circle cx="1032.3" cy="316.79" r="2.15"/>
<circle cx="1033.11" cy="316.78" r="2.15"/>
<circle cx="1033.93" cy="316.57" r="2.15"/>
<circle cx="1034.74" cy="317.85" r="2.15"/>
<circle cx="1035.56" cy="315.64" r="2.15"/>
<circle cx="1036.37" cy="316.2" r="2.15"/>
<circle cx="1037.19" cy="316.69" r="2.15"/>
<circle cx="1038" cy="315.68" r="2.15"/>
<circle cx="1038.82" cy="317.26" r="2.15"/>
<circle cx="1039.63" cy="318.29" r="2.15"/>
<circle cx="1040.45" cy="316.46" r="2.15"/>
<circle cx="1041.26" cy="317.22" r="2.15"/>
<circle cx="1042.08" cy="316.71" r="2.15"/>
<circle cx="1042.89" cy="317.04" r="2.15"/>
<circle cx="1043.71" cy="316.84" r="2.15"/>
<circle cx="1044.52" cy="317.35" r="2.15"/>
<circle cx="1045.34" cy="316.75" r="2.15"/>
<circle cx="1046.15" cy="316.24" r="2.15"/>
<circle cx="1046.97" cy="316.48" r="2.15"/>
<circle cx="1047.78" cy="315.6" r="2.15"/>
<circle cx="1048.6" cy="316.36" r="2.15"/>
<circle cx="1049.41" cy="316.49" r="2.15"/>
<circle cx="1050.23" cy="316.63" r="2.15"/>
<circle cx="1051.04" cy="316.42" r="2.15"/>
<circle cx="1051.86" cy="316.9" r="2.15"/>
<circle cx="1052.67" cy="317.66" r="2.15"/>
<circle cx="1053.49" cy="317.52" r="2.15"/>
<circle cx="1054.3" cy="318.02" r="2.15"/>
<circle cx="1055.12" cy="317" r="2.15"/>
<circle cx="1055.93" cy="316.78" r="2.15"/>
<circle cx="1056.75" cy="316.56" r="2.15"/>
<circle cx="1057.56" cy="316.13" r="2.15"/>
<circle cx="1058.38" cy="317.19" r="2.15"/>
<circle cx="1059.19" cy="318.31" r="2.15"/>
<circle cx="1060.01" cy="317.36" r="2.15"/>
<circle cx="1060.82" cy="316.93" r="2.15"/>
<circle cx="1061.64" cy="318.18" r="2.15"/>
<circle cx="1062.45" cy="317.76" r="2.15"/>
<circle cx="1063.27" cy="317.68" r="2.15"/>
<circle cx="1064.08" cy="315.63" r="2.15"/>
<circle cx="1064.9" cy="316.24" r="2.15"/>
<circle cx="1065.71" cy="317.44" r="2.15"/>
<circle cx="1066.53" cy="317.31" r="2.15"/>
<circle cx="1067.34" cy="316.93" r="2.15"/>
<circle cx="1068.16" cy="316.84" r="2.15"/>
<circle cx="1068.97" cy="316.87" r="2.15"/>
<circle cx="1069.79" cy="317.79" r="2.15"/>
<circle cx="1070.6" cy="317.68" r="2.15"/>
<circle cx="1071.42" cy="316.14" r="2.15"/>
<circle cx="1072.23" cy="317.07" r="2.15"/>
<circle cx="1073.05" cy="316.38" r="2.15"/>
<circle cx="1073.86" cy="317.07" r="2.15"/>
<circle cx="1074.68" cy="316.9" r="2.15"/>
<circle cx="1075.49" cy="316.89" r="2.15"/>
<circle cx="1076.31" cy="317.26" r="2.15"/>
<circle cx="1077.12" cy="316.3" r="2.15"/>
<circle cx="1077.94" cy="316.55" r="2.15"/>
<circle cx="1078.75" cy="317.15" r="2.15"/>
<circle cx="1079.57" cy="317.01" r="2.15"/>
<circle cx="1080.38" cy="316.08" r="2.15"/>
<circle cx="1081.2" cy="317.76" r="2.15"/>
<circle cx="1082.01" cy="316.6" r="2.15"/>
<circle cx="1082.83" cy="316.4" r="2.15"/>
<circle cx="1083.64" cy="316.11" r="2.15"/>
<circle cx="1084.46" cy="316.2" r="2.15"/>
<circle cx="1085.27" cy="317.7" r="2.15"/>
<circle cx="1086.09" cy="316.64" r="2.15"/>
<circle cx="1086.9" cy="317.41" r="2.15"/>
<circle cx="1087.72" cy="316.65" r="2.15"/>
<circle cx="1088.53" cy="317.09" r="2.15"/>
<circle cx="1089.35" cy="316.62" r="2.15"/>
<circle cx="1090.16" cy="317.66" r="2.15"/>
<circle cx="1090.98" cy="317.11" r="2.15"/>
<circle cx="1091.79" cy="316.88" r="2.15"/>
<circle cx="1092.61" cy="316.88" r="2.15"/>
<circle cx="1093.42" cy="316.64" r="2.15"/>
<circle cx="1094.24" cy="316.04" r="2.15"/>
<circle cx="1095.05" cy="317.87" r="2.15"/>
<circle cx="1095.87" cy="317.22" r="2.15"/>
<circle cx="1096.68" cy="318.37" r="2.15"/>
<circle cx="1097.5" cy="316.87" r="2.15"/>
<circle cx="1098.31" cy="316.24" r="2.15"/>
<circle cx="1099.13" cy="317.17" r="2.15"/>
<circle cx="1099.94" cy="316.52" r="2.15"/>
</g>
</g>
<g>
<text x="278.7" y="572.1" font-size="13.3" text-anchor="middle">0</text>
<text x="336.5" y="572.1" font-size="13.3" text-anchor="middle">10</text>
<text x="394.3" y="572.1" font-size="13.3" text-anchor="middle">20</text>
<text x="452.1" y="572.1" font-size="13.3" text-anchor="middle">30</text>
<text x="509.9" y="572.1" font-size="13.3" text-anchor="middle">40</text>
<text x="265.4" y="751.55" font-size="13.3" text-anchor="end">0</text>
<text x="265.4" y="711.05" font-size="13.3" text-anchor="end">1000</text>
<text x="265.4" y="670.55" font-size="13.3" text-anchor="end">2000</text>
<text x="265.4" y="630.05" font-size="13.3" text-anchor="end">3000</text>
<text x="265.4" y="589.55" font-size="13.3" text-anchor="end">4000</text>
<path d="M273.5 584.7H509.9M277 584.7V746.25M278.7 585.3v-3.3M336.5 585.3v-3.3M394.3 585.3v-3.3M452.1 585.3v-3.3M509.9 585.3v-3.3M277 746.25h-3.5M277 705.75h-3.5M277 665.25h-3.5M277 624.75h-3.5" stroke="#1a1718" stroke-width="1.4" fill="none"/>
<text x="393.8" y="550.5" font-size="16.1" text-anchor="middle">Time (s)</text>
<text transform="translate(226 665.98) rotate(-90)" font-size="15.4" text-anchor="middle">OSL (counts/0.16s)</text>
<polyline points="278.7,592.63 279.62,696.64 280.55,723.81 281.47,734.1 282.4,737.54 283.32,738.96 284.25,739.77 285.17,740.26 286.1,740.66 287.02,740.99 287.95,741.23 288.87,741.47 289.8,742.05 290.72,741.91 291.65,742.13 292.57,741.81 293.5,743.05 294.42,742.98 295.35,743.2 296.27,743.17 297.2,742.03 298.12,742.53 299.05,743.24 299.97,743.23 300.9,742.11 301.82,743.44 302.74,743.11 303.67,742.56 304.59,742.14 305.52,742.13 306.44,743.18 307.37,743.64 308.29,743.55 309.22,742.71 310.14,742.84 311.07,742.3 311.99,742.52 312.92,742.39 313.84,743.61 314.77,743.66 315.69,743.06 316.62,742.83 317.54,743.52 318.47,742.36 319.39,744.06 320.32,743.19 321.24,743.67 322.17,742.92 323.09,742.89 324.02,743.38 324.94,743 325.86,742.49 326.79,743.64 327.71,743.69 328.64,743.83 329.56,743.48 330.49,743.86 331.41,744.33 332.34,742.93 333.26,744.03 334.19,744.68 335.11,743.08 336.04,744.1 336.96,743.1 337.89,742.79 338.81,744.01 339.74,744.11 340.66,742.81 341.59,744.43 342.51,744.16 343.44,743.93 344.36,743.93 345.29,742.76 346.21,743.57 347.14,744.54 348.06,742.68 348.98,743.16 349.91,743.61 350.83,742.49 351.76,743.02 352.68,743.1 353.61,743.9 354.53,743.56 355.46,742.68 356.38,743.18 357.31,743.7 358.23,744.35 359.16,743.3 360.08,743.47 361.01,743.01 361.93,743.19 362.86,743.09 363.78,743.58 364.71,743.38 365.63,743.87 366.56,743.42 367.48,743.39 368.41,743.42 369.33,744.07 370.26,743.4 371.18,743.73 372.1,744.24 373.03,743.65 373.95,743.31 374.88,743.95 375.8,742.79 376.73,743.5 377.65,743.09 378.58,743.33 379.5,744.7 380.43,744.77 381.35,743.46 382.28,743.97 383.2,744.04 384.13,743.44 385.05,743.54 385.98,743.6 386.9,744.29 387.83,742.97 388.75,745.02 389.68,743.2 390.6,744.07 391.53,743.31 392.45,743.75 393.38,743.61 394.3,742.97 395.22,744.16 396.15,745.01 397.07,744.19 398,745.17 398.92,744.21 399.85,744.29 400.77,743.57 401.7,744.19 402.62,743.65 403.55,744.71 404.47,743.68 405.4,743.97 406.32,743.3 407.25,742.54 408.17,743.44 409.1,743.35 410.02,744.36 410.95,744.23 411.87,742.81 412.8,744.82 413.72,744.01 414.65,743.59 415.57,743.32 416.5,744.17 417.42,743.85 418.34,743.55 419.27,743.11 420.19,743.82 421.12,744.01 422.04,743.16 422.97,743.29 423.89,744.17 424.82,743.68 425.74,743.94 426.67,743.83 427.59,744.83 428.52,743.75 429.44,743.92 430.37,744.61 431.29,743.92 432.22,744.42 433.14,744.27 434.07,744.07 434.99,742.69 435.92,743.27 436.84,744.52 437.77,743.21 438.69,744.09 439.62,743.14 440.54,743.49 441.46,743.17 442.39,743.34 443.31,744.15 444.24,744.23 445.16,743.8 446.09,743.75 447.01,743.23 447.94,742.52 448.86,743.76 449.79,742.76 450.71,743.59 451.64,743.55 452.56,744.46 453.49,743.84 454.41,743.53 455.34,744.03 456.26,744.32 457.19,743.9 458.11,743.27 459.04,743.39 459.96,744.29 460.89,743.39 461.81,744.03 462.74,744.18 463.66,743.13 464.58,743.66 465.51,743.84 466.43,743.96 467.36,745.7 468.28,743.41 469.21,743.1 470.13,745.44 471.06,745.45 471.98,744.23 472.91,743.36 473.83,743.74 474.76,743.64 475.68,744.42 476.61,744.54 477.53,743.74 478.46,744.72 479.38,743.25 480.31,743.56 481.23,744.04 482.16,744.42 483.08,743.05 484.01,744.01 484.93,745.01 485.86,744.49 486.78,745.12 487.7,743.52 488.63,744.64 489.55,744.03 490.48,743.74 491.4,743.26 492.33,744.84 493.25,743.63 494.18,744.26 495.1,744.07 496.03,745.29 496.95,743.95 497.88,743.86 498.8,743.8 499.73,743.63 500.65,744.43 501.58,744.94 502.5,743.62 503.43,744.77 504.35,742.48 505.28,744.19 506.2,745.17 507.13,743.51 508.05,744.07 508.98,744.41" fill="none" stroke="#1a1718" stroke-width="1.3"/>
<g fill="#1a1718">
<circle cx="278.7" cy="592.63" r="2.2"/>
<circle cx="279.62" cy="696.64" r="2.2"/>
<circle cx="280.55" cy="723.81" r="2.2"/>
<circle cx="281.47" cy="734.1" r="2.2"/>
<circle cx="282.4" cy="737.54" r="2.2"/>
<circle cx="283.32" cy="738.96" r="2.2"/>
<circle cx="284.25" cy="739.77" r="2.2"/>
<circle cx="285.17" cy="740.26" r="2.2"/>
<circle cx="286.1" cy="740.66" r="2.2"/>
<circle cx="287.02" cy="740.99" r="2.2"/>
<circle cx="287.95" cy="741.23" r="2.2"/>
<circle cx="288.87" cy="741.47" r="2.2"/>
<circle cx="289.8" cy="742.05" r="2.2"/>
<circle cx="290.72" cy="741.91" r="2.2"/>
<circle cx="291.65" cy="742.13" r="2.2"/>
<circle cx="292.57" cy="741.81" r="2.2"/>
<circle cx="293.5" cy="743.05" r="2.2"/>
<circle cx="294.42" cy="742.98" r="2.2"/>
<circle cx="295.35" cy="743.2" r="2.2"/>
<circle cx="296.27" cy="743.17" r="2.2"/>
<circle cx="297.2" cy="742.03" r="2.2"/>
<circle cx="298.12" cy="742.53" r="2.2"/>
<circle cx="299.05" cy="743.24" r="2.2"/>
<circle cx="299.97" cy="743.23" r="2.2"/>
<circle cx="300.9" cy="742.11" r="2.2"/>
<circle cx="301.82" cy="743.44" r="2.2"/>
<circle cx="302.74" cy="743.11" r="2.2"/>
<circle cx="303.67" cy="742.56" r="2.2"/>
<circle cx="304.59" cy="742.14" r="2.2"/>
<circle cx="305.52" cy="742.13" r="2.2"/>
<circle cx="306.44" cy="743.18" r="2.2"/>
<circle cx="307.37" cy="743.64" r="2.2"/>
<circle cx="308.29" cy="743.55" r="2.2"/>
<circle cx="309.22" cy="742.71" r="2.2"/>
<circle cx="310.14" cy="742.84" r="2.2"/>
<circle cx="311.07" cy="742.3" r="2.2"/>
<circle cx="311.99" cy="742.52" r="2.2"/>
<circle cx="312.92" cy="742.39" r="2.2"/>
<circle cx="313.84" cy="743.61" r="2.2"/>
<circle cx="314.77" cy="743.66" r="2.2"/>
<circle cx="315.69" cy="743.06" r="2.2"/>
<circle cx="316.62" cy="742.83" r="2.2"/>
<circle cx="317.54" cy="743.52" r="2.2"/>
<circle cx="318.47" cy="742.36" r="2.2"/>
<circle cx="319.39" cy="744.06" r="2.2"/>
<circle cx="320.32" cy="743.19" r="2.2"/>
<circle cx="321.24" cy="743.67" r="2.2"/>
<circle cx="322.17" cy="742.92" r="2.2"/>
<circle cx="323.09" cy="742.89" r="2.2"/>
<circle cx="324.02" cy="743.38" r="2.2"/>
<circle cx="324.94" cy="743" r="2.2"/>
<circle cx="325.86" cy="742.49" r="2.2"/>
<circle cx="326.79" cy="743.64" r="2.2"/>
<circle cx="327.71" cy="743.69" r="2.2"/>
<circle cx="328.64" cy="743.83" r="2.2"/>
<circle cx="329.56" cy="743.48" r="2.2"/>
<circle cx="330.49" cy="743.86" r="2.2"/>
<circle cx="331.41" cy="744.33" r="2.2"/>
<circle cx="332.34" cy="742.93" r="2.2"/>
<circle cx="333.26" cy="744.03" r="2.2"/>
<circle cx="334.19" cy="744.68" r="2.2"/>
<circle cx="335.11" cy="743.08" r="2.2"/>
<circle cx="336.04" cy="744.1" r="2.2"/>
<circle cx="336.96" cy="743.1" r="2.2"/>
<circle cx="337.89" cy="742.79" r="2.2"/>
<circle cx="338.81" cy="744.01" r="2.2"/>
<circle cx="339.74" cy="744.11" r="2.2"/>
<circle cx="340.66" cy="742.81" r="2.2"/>
<circle cx="341.59" cy="744.43" r="2.2"/>
<circle cx="342.51" cy="744.16" r="2.2"/>
<circle cx="343.44" cy="743.93" r="2.2"/>
<circle cx="344.36" cy="743.93" r="2.2"/>
<circle cx="345.29" cy="742.76" r="2.2"/>
<circle cx="346.21" cy="743.57" r="2.2"/>
<circle cx="347.14" cy="744.54" r="2.2"/>
<circle cx="348.06" cy="742.68" r="2.2"/>
<circle cx="348.98" cy="743.16" r="2.2"/>
<circle cx="349.91" cy="743.61" r="2.2"/>
<circle cx="350.83" cy="742.49" r="2.2"/>
<circle cx="351.76" cy="743.02" r="2.2"/>
<circle cx="352.68" cy="743.1" r="2.2"/>
<circle cx="353.61" cy="743.9" r="2.2"/>
<circle cx="354.53" cy="743.56" r="2.2"/>
<circle cx="355.46" cy="742.68" r="2.2"/>
<circle cx="356.38" cy="743.18" r="2.2"/>
<circle cx="357.31" cy="743.7" r="2.2"/>
<circle cx="358.23" cy="744.35" r="2.2"/>
<circle cx="359.16" cy="743.3" r="2.2"/>
<circle cx="360.08" cy="743.47" r="2.2"/>
<circle cx="361.01" cy="743.01" r="2.2"/>
<circle cx="361.93" cy="743.19" r="2.2"/>
<circle cx="362.86" cy="743.09" r="2.2"/>
<circle cx="363.78" cy="743.58" r="2.2"/>
<circle cx="364.71" cy="743.38" r="2.2"/>
<circle cx="365.63" cy="743.87" r="2.2"/>
<circle cx="366.56" cy="743.42" r="2.2"/>
<circle cx="367.48" cy="743.39" r="2.2"/>
<circle cx="368.41" cy="743.42" r="2.2"/>
<circle cx="369.33" cy="744.07" r="2.2"/>
<circle cx="370.26" cy="743.4" r="2.2"/>
<circle cx="371.18" cy="743.73" r="2.2"/>
<circle cx="372.1" cy="744.24" r="2.2"/>
<circle cx="373.03" cy="743.65" r="2.2"/>
<circle cx="373.95" cy="743.31" r="2.2"/>
<circle cx="374.88" cy="743.95" r="2.2"/>
<circle cx="375.8" cy="742.79" r="2.2"/>
<circle cx="376.73" cy="743.5" r="2.2"/>
<circle cx="377.65" cy="743.09" r="2.2"/>
<circle cx="378.58" cy="743.33" r="2.2"/>
<circle cx="379.5" cy="744.7" r="2.2"/>
<circle cx="380.43" cy="744.77" r="2.2"/>
<circle cx="381.35" cy="743.46" r="2.2"/>
<circle cx="382.28" cy="743.97" r="2.2"/>
<circle cx="383.2" cy="744.04" r="2.2"/>
<circle cx="384.13" cy="743.44" r="2.2"/>
<circle cx="385.05" cy="743.54" r="2.2"/>
<circle cx="385.98" cy="743.6" r="2.2"/>
<circle cx="386.9" cy="744.29" r="2.2"/>
<circle cx="387.83" cy="742.97" r="2.2"/>
<circle cx="388.75" cy="745.02" r="2.2"/>
<circle cx="389.68" cy="743.2" r="2.2"/>
<circle cx="390.6" cy="744.07" r="2.2"/>
<circle cx="391.53" cy="743.31" r="2.2"/>
<circle cx="392.45" cy="743.75" r="2.2"/>
<circle cx="393.38" cy="743.61" r="2.2"/>
<circle cx="394.3" cy="742.97" r="2.2"/>
<circle cx="395.22" cy="744.16" r="2.2"/>
<circle cx="396.15" cy="745.01" r="2.2"/>
<circle cx="397.07" cy="744.19" r="2.2"/>
<circle cx="398" cy="745.17" r="2.2"/>
<circle cx="398.92" cy="744.21" r="2.2"/>
<circle cx="399.85" cy="744.29" r="2.2"/>
<circle cx="400.77" cy="743.57" r="2.2"/>
<circle cx="401.7" cy="744.19" r="2.2"/>
<circle cx="402.62" cy="743.65" r="2.2"/>
<circle cx="403.55" cy="744.71" r="2.2"/>
<circle cx="404.47" cy="743.68" r="2.2"/>
<circle cx="405.4" cy="743.97" r="2.2"/>
<circle cx="406.32" cy="743.3" r="2.2"/>
<circle cx="407.25" cy="742.54" r="2.2"/>
<circle cx="408.17" cy="743.44" r="2.2"/>
<circle cx="409.1" cy="743.35" r="2.2"/>
<circle cx="410.02" cy="744.36" r="2.2"/>
<circle cx="410.95" cy="744.23" r="2.2"/>
<circle cx="411.87" cy="742.81" r="2.2"/>
<circle cx="412.8" cy="744.82" r="2.2"/>
<circle cx="413.72" cy="744.01" r="2.2"/>
<circle cx="414.65" cy="743.59" r="2.2"/>
<circle cx="415.57" cy="743.32" r="2.2"/>
<circle cx="416.5" cy="744.17" r="2.2"/>
<circle cx="417.42" cy="743.85" r="2.2"/>
<circle cx="418.34" cy="743.55" r="2.2"/>
<circle cx="419.27" cy="743.11" r="2.2"/>
<circle cx="420.19" cy="743.82" r="2.2"/>
<circle cx="421.12" cy="744.01" r="2.2"/>
<circle cx="422.04" cy="743.16" r="2.2"/>
<circle cx="422.97" cy="743.29" r="2.2"/>
<circle cx="423.89" cy="744.17" r="2.2"/>
<circle cx="424.82" cy="743.68" r="2.2"/>
<circle cx="425.74" cy="743.94" r="2.2"/>
<circle cx="426.67" cy="743.83" r="2.2"/>
<circle cx="427.59" cy="744.83" r="2.2"/>
<circle cx="428.52" cy="743.75" r="2.2"/>
<circle cx="429.44" cy="743.92" r="2.2"/>
<circle cx="430.37" cy="744.61" r="2.2"/>
<circle cx="431.29" cy="743.92" r="2.2"/>
<circle cx="432.22" cy="744.42" r="2.2"/>
<circle cx="433.14" cy="744.27" r="2.2"/>
<circle cx="434.07" cy="744.07" r="2.2"/>
<circle cx="434.99" cy="742.69" r="2.2"/>
<circle cx="435.92" cy="743.27" r="2.2"/>
<circle cx="436.84" cy="744.52" r="2.2"/>
<circle cx="437.77" cy="743.21" r="2.2"/>
<circle cx="438.69" cy="744.09" r="2.2"/>
<circle cx="439.62" cy="743.14" r="2.2"/>
<circle cx="440.54" cy="743.49" r="2.2"/>
<circle cx="441.46" cy="743.17" r="2.2"/>
<circle cx="442.39" cy="743.34" r="2.2"/>
<circle cx="443.31" cy="744.15" r="2.2"/>
<circle cx="444.24" cy="744.23" r="2.2"/>
<circle cx="445.16" cy="743.8" r="2.2"/>
<circle cx="446.09" cy="743.75" r="2.2"/>
<circle cx="447.01" cy="743.23" r="2.2"/>
<circle cx="447.94" cy="742.52" r="2.2"/>
<circle cx="448.86" cy="743.76" r="2.2"/>
<circle cx="449.79" cy="742.76" r="2.2"/>
<circle cx="450.71" cy="743.59" r="2.2"/>
<circle cx="451.64" cy="743.55" r="2.2"/>
<circle cx="452.56" cy="744.46" r="2.2"/>
<circle cx="453.49" cy="743.84" r="2.2"/>
<circle cx="454.41" cy="743.53" r="2.2"/>
<circle cx="455.34" cy="744.03" r="2.2"/>
<circle cx="456.26" cy="744.32" r="2.2"/>
<circle cx="457.19" cy="743.9" r="2.2"/>
<circle cx="458.11" cy="743.27" r="2.2"/>
<circle cx="459.04" cy="743.39" r="2.2"/>
<circle cx="459.96" cy="744.29" r="2.2"/>
<circle cx="460.89" cy="743.39" r="2.2"/>
<circle cx="461.81" cy="744.03" r="2.2"/>
<circle cx="462.74" cy="744.18" r="2.2"/>
<circle cx="463.66" cy="743.13" r="2.2"/>
<circle cx="464.58" cy="743.66" r="2.2"/>
<circle cx="465.51" cy="743.84" r="2.2"/>
<circle cx="466.43" cy="743.96" r="2.2"/>
<circle cx="467.36" cy="745.7" r="2.2"/>
<circle cx="468.28" cy="743.41" r="2.2"/>
<circle cx="469.21" cy="743.1" r="2.2"/>
<circle cx="470.13" cy="745.44" r="2.2"/>
<circle cx="471.06" cy="745.45" r="2.2"/>
<circle cx="471.98" cy="744.23" r="2.2"/>
<circle cx="472.91" cy="743.36" r="2.2"/>
<circle cx="473.83" cy="743.74" r="2.2"/>
<circle cx="474.76" cy="743.64" r="2.2"/>
<circle cx="475.68" cy="744.42" r="2.2"/>
<circle cx="476.61" cy="744.54" r="2.2"/>
<circle cx="477.53" cy="743.74" r="2.2"/>
<circle cx="478.46" cy="744.72" r="2.2"/>
<circle cx="479.38" cy="743.25" r="2.2"/>
<circle cx="480.31" cy="743.56" r="2.2"/>
<circle cx="481.23" cy="744.04" r="2.2"/>
<circle cx="482.16" cy="744.42" r="2.2"/>
<circle cx="483.08" cy="743.05" r="2.2"/>
<circle cx="484.01" cy="744.01" r="2.2"/>
<circle cx="484.93" cy="745.01" r="2.2"/>
<circle cx="485.86" cy="744.49" r="2.2"/>
<circle cx="486.78" cy="745.12" r="2.2"/>
<circle cx="487.7" cy="743.52" r="2.2"/>
<circle cx="488.63" cy="744.64" r="2.2"/>
<circle cx="489.55" cy="744.03" r="2.2"/>
<circle cx="490.48" cy="743.74" r="2.2"/>
<circle cx="491.4" cy="743.26" r="2.2"/>
<circle cx="492.33" cy="744.84" r="2.2"/>
<circle cx="493.25" cy="743.63" r="2.2"/>
<circle cx="494.18" cy="744.26" r="2.2"/>
<circle cx="495.1" cy="744.07" r="2.2"/>
<circle cx="496.03" cy="745.29" r="2.2"/>
<circle cx="496.95" cy="743.95" r="2.2"/>
<circle cx="497.88" cy="743.86" r="2.2"/>
<circle cx="498.8" cy="743.8" r="2.2"/>
<circle cx="499.73" cy="743.63" r="2.2"/>
<circle cx="500.65" cy="744.43" r="2.2"/>
<circle cx="501.58" cy="744.94" r="2.2"/>
<circle cx="502.5" cy="743.62" r="2.2"/>
<circle cx="503.43" cy="744.77" r="2.2"/>
<circle cx="504.35" cy="742.48" r="2.2"/>
<circle cx="505.28" cy="744.19" r="2.2"/>
<circle cx="506.2" cy="745.17" r="2.2"/>
<circle cx="507.13" cy="743.51" r="2.2"/>
<circle cx="508.05" cy="744.07" r="2.2"/>
<circle cx="508.98" cy="744.41" r="2.2"/>
</g>
</g>
<g>
<text x="882.75" y="572.2" font-size="13.4" text-anchor="middle">0</text>
<text x="938.31" y="572.2" font-size="13.4" text-anchor="middle">10</text>
<text x="993.87" y="572.2" font-size="13.4" text-anchor="middle">20</text>
<text x="1049.43" y="572.2" font-size="13.4" text-anchor="middle">30</text>
<text x="1104.99" y="572.2" font-size="13.4" text-anchor="middle">40</text>
<text x="864.05" y="749.6" font-size="13.4" text-anchor="end">0</text>
<text x="864.05" y="709.6" font-size="13.4" text-anchor="end">4000</text>
<text x="864.05" y="669.6" font-size="13.4" text-anchor="end">8000</text>
<text x="864.05" y="629.6" font-size="13.4" text-anchor="end">12000</text>
<text x="864.05" y="589.6" font-size="13.4" text-anchor="end">16000</text>
<path d="M873.75 585.4H1104.99M877.25 585.4V744.5M882.75 586v-3.3M938.31 586v-3.3M993.87 586v-3.3M1049.43 586v-3.3M1104.99 586v-3.3M877.25 744.5h-3.5M877.25 704.5h-3.5M877.25 664.5h-3.5M877.25 624.5h-3.5" stroke="#1a1718" stroke-width="1.4" fill="none"/>
<text x="991.37" y="550.5" font-size="16.4" text-anchor="middle">Time (s)</text>
<text transform="translate(816 665.45) rotate(-90)" font-size="15.8" text-anchor="middle">OSL (counts/0.16s)</text>
<polyline points="882.75,608.75 883.64,669 884.53,700.75 885.42,717.5 886.31,727 887.19,732 888.08,735 888.97,736.9 889.86,738.2 890.75,739.1 891.64,739.8 892.53,740.3 893.42,740.7 894.31,741 895.2,741.25 896.08,741.45 896.97,741.6 897.86,741.75 898.75,741.88 899.64,742 900.53,742.52 901.42,742.66 902.31,742.69 903.2,742.84 904.09,742.68 904.97,742.67 905.86,742.77 906.75,742.77 907.64,742.91 908.53,742.63 909.42,742.75 910.31,742.83 911.2,742.75 912.09,742.79 912.97,742.83 913.86,742.87 914.75,742.85 915.64,742.82 916.53,742.8 917.42,742.81 918.31,742.86 919.2,742.82 920.09,742.94 920.98,743.09 921.86,743.1 922.75,742.86 923.64,743.13 924.53,743.05 925.42,742.98 926.31,742.89 927.2,743.21 928.09,743.12 928.98,743.1 929.86,743.1 930.75,743.03 931.64,742.95 932.53,742.98 933.42,742.76 934.31,742.89 935.2,743.2 936.09,743.22 936.98,743.1 937.87,743.11 938.75,742.98 939.64,743.03 940.53,743.01 941.42,743.1 942.31,743.06 943.2,743.07 944.09,743.14 944.98,743.06 945.87,743.27 946.76,743.03 947.64,743.07 948.53,742.85 949.42,743.15 950.31,743.31 951.2,743.22 952.09,743.18 952.98,743.24 953.87,743.29 954.76,743.21 955.64,743.32 956.53,743.06 957.42,743.33 958.31,743.12 959.2,743.08 960.09,743.14 960.98,743.05 961.87,743.15 962.76,743.11 963.65,743.29 964.53,743.33 965.42,743.26 966.31,743.19 967.2,743.11 968.09,743.34 968.98,743.28 969.87,743.3 970.76,743.14 971.65,743.28 972.53,743.11 973.42,743.26 974.31,743.31 975.2,743.31 976.09,743.41 976.98,743.5 977.87,743.3 978.76,743.32 979.65,743.03 980.54,743.2 981.42,743.15 982.31,743.23 983.2,743.27 984.09,743.4 984.98,743.38 985.87,743.11 986.76,743.3 987.65,743.3 988.54,743.18 989.43,743.28 990.31,743.28 991.2,743.05 992.09,743.22 992.98,743.3 993.87,743.3 994.76,743.33 995.65,743.23 996.54,743.21 997.43,743.32 998.31,743.29 999.2,743.43 1000.09,743.3 1000.98,743.2 1001.87,743.37 1002.76,743.28 1003.65,743.34 1004.54,743.32 1005.43,743.24 1006.32,743.37 1007.2,743.16 1008.09,743.14 1008.98,743.15 1009.87,743.37 1010.76,743.47 1011.65,743.33 1012.54,743.26 1013.43,743.28 1014.32,743.3 1015.21,743.28 1016.09,743.32 1016.98,743.22 1017.87,743.43 1018.76,743.24 1019.65,743.23 1020.54,743.34 1021.43,742.91 1022.32,743.26 1023.21,743.26 1024.09,743.41 1024.98,743.26 1025.87,743.26 1026.76,743.17 1027.65,743.33 1028.54,743.17 1029.43,743.42 1030.32,743.28 1031.21,743.47 1032.1,743.29 1032.98,743.21 1033.87,743.44 1034.76,743.22 1035.65,743.24 1036.54,743.45 1037.43,743.39 1038.32,743.34 1039.21,743.24 1040.1,743.15 1040.98,743.36 1041.87,743.39 1042.76,743.33 1043.65,743.57 1044.54,743.25 1045.43,743.31 1046.32,743.32 1047.21,743.16 1048.1,743.32 1048.99,743.37 1049.87,743.19 1050.76,743.34 1051.65,743.29 1052.54,743.33 1053.43,743.3 1054.32,743.27 1055.21,743.26 1056.1,743.41 1056.99,743.16 1057.88,743.33 1058.76,743.34 1059.65,743.21 1060.54,743.34 1061.43,743.25 1062.32,743.18 1063.21,743.2 1064.1,743.34 1064.99,743.19 1065.88,743.32 1066.76,743.37 1067.65,743.38 1068.54,743.26 1069.43,743.36 1070.32,743.16 1071.21,743.21 1072.1,743.24 1072.99,743.18 1073.88,743.2 1074.77,743.37 1075.65,743.05 1076.54,743.44 1077.43,743.28 1078.32,743.48 1079.21,743.32 1080.1,743.34 1080.99,743.43 1081.88,743.24 1082.77,743.29 1083.65,743.3 1084.54,743.4 1085.43,743.16 1086.32,743.32 1087.21,743.22 1088.1,743.45 1088.99,743.16 1089.88,743.33 1090.77,743.2 1091.66,743.34 1092.54,743.3 1093.43,743.25 1094.32,743.3 1095.21,743.09 1096.1,743.31 1096.99,743.32 1097.88,743.19 1098.77,743.28 1099.66,743.39 1100.55,743.32 1101.43,743.22 1102.32,743.29 1103.21,743.18 1104.1,743.41" fill="none" stroke="#1a1718" stroke-width="1.3"/>
<g fill="#1a1718">
<circle cx="882.75" cy="608.75" r="2.4"/>
<circle cx="883.64" cy="669" r="2.4"/>
<circle cx="884.53" cy="700.75" r="2.4"/>
<circle cx="885.42" cy="717.5" r="2.4"/>
<circle cx="886.31" cy="727" r="2.4"/>
<circle cx="887.19" cy="732" r="2.4"/>
<circle cx="888.08" cy="735" r="2.4"/>
<circle cx="888.97" cy="736.9" r="2.4"/>
<circle cx="889.86" cy="738.2" r="2.4"/>
<circle cx="890.75" cy="739.1" r="2.4"/>
<circle cx="891.64" cy="739.8" r="2.4"/>
<circle cx="892.53" cy="740.3" r="2.4"/>
<circle cx="893.42" cy="740.7" r="2.4"/>
<circle cx="894.31" cy="741" r="2.4"/>
<circle cx="895.2" cy="741.25" r="2.4"/>
<circle cx="896.08" cy="741.45" r="2.4"/>
<circle cx="896.97" cy="741.6" r="2.4"/>
<circle cx="897.86" cy="741.75" r="2.4"/>
<circle cx="898.75" cy="741.88" r="2.4"/>
<circle cx="899.64" cy="742" r="2.4"/>
<circle cx="900.53" cy="742.52" r="2.4"/>
<circle cx="901.42" cy="742.66" r="2.4"/>
<circle cx="902.31" cy="742.69" r="2.4"/>
<circle cx="903.2" cy="742.84" r="2.4"/>
<circle cx="904.09" cy="742.68" r="2.4"/>
<circle cx="904.97" cy="742.67" r="2.4"/>
<circle cx="905.86" cy="742.77" r="2.4"/>
<circle cx="906.75" cy="742.77" r="2.4"/>
<circle cx="907.64" cy="742.91" r="2.4"/>
<circle cx="908.53" cy="742.63" r="2.4"/>
<circle cx="909.42" cy="742.75" r="2.4"/>
<circle cx="910.31" cy="742.83" r="2.4"/>
<circle cx="911.2" cy="742.75" r="2.4"/>
<circle cx="912.09" cy="742.79" r="2.4"/>
<circle cx="912.97" cy="742.83" r="2.4"/>
<circle cx="913.86" cy="742.87" r="2.4"/>
<circle cx="914.75" cy="742.85" r="2.4"/>
<circle cx="915.64" cy="742.82" r="2.4"/>
<circle cx="916.53" cy="742.8" r="2.4"/>
<circle cx="917.42" cy="742.81" r="2.4"/>
<circle cx="918.31" cy="742.86" r="2.4"/>
<circle cx="919.2" cy="742.82" r="2.4"/>
<circle cx="920.09" cy="742.94" r="2.4"/>
<circle cx="920.98" cy="743.09" r="2.4"/>
<circle cx="921.86" cy="743.1" r="2.4"/>
<circle cx="922.75" cy="742.86" r="2.4"/>
<circle cx="923.64" cy="743.13" r="2.4"/>
<circle cx="924.53" cy="743.05" r="2.4"/>
<circle cx="925.42" cy="742.98" r="2.4"/>
<circle cx="926.31" cy="742.89" r="2.4"/>
<circle cx="927.2" cy="743.21" r="2.4"/>
<circle cx="928.09" cy="743.12" r="2.4"/>
<circle cx="928.98" cy="743.1" r="2.4"/>
<circle cx="929.86" cy="743.1" r="2.4"/>
<circle cx="930.75" cy="743.03" r="2.4"/>
<circle cx="931.64" cy="742.95" r="2.4"/>
<circle cx="932.53" cy="742.98" r="2.4"/>
<circle cx="933.42" cy="742.76" r="2.4"/>
<circle cx="934.31" cy="742.89" r="2.4"/>
<circle cx="935.2" cy="743.2" r="2.4"/>
<circle cx="936.09" cy="743.22" r="2.4"/>
<circle cx="936.98" cy="743.1" r="2.4"/>
<circle cx="937.87" cy="743.11" r="2.4"/>
<circle cx="938.75" cy="742.98" r="2.4"/>
<circle cx="939.64" cy="743.03" r="2.4"/>
<circle cx="940.53" cy="743.01" r="2.4"/>
<circle cx="941.42" cy="743.1" r="2.4"/>
<circle cx="942.31" cy="743.06" r="2.4"/>
<circle cx="943.2" cy="743.07" r="2.4"/>
<circle cx="944.09" cy="743.14" r="2.4"/>
<circle cx="944.98" cy="743.06" r="2.4"/>
<circle cx="945.87" cy="743.27" r="2.4"/>
<circle cx="946.76" cy="743.03" r="2.4"/>
<circle cx="947.64" cy="743.07" r="2.4"/>
<circle cx="948.53" cy="742.85" r="2.4"/>
<circle cx="949.42" cy="743.15" r="2.4"/>
<circle cx="950.31" cy="743.31" r="2.4"/>
<circle cx="951.2" cy="743.22" r="2.4"/>
<circle cx="952.09" cy="743.18" r="2.4"/>
<circle cx="952.98" cy="743.24" r="2.4"/>
<circle cx="953.87" cy="743.29" r="2.4"/>
<circle cx="954.76" cy="743.21" r="2.4"/>
<circle cx="955.64" cy="743.32" r="2.4"/>
<circle cx="956.53" cy="743.06" r="2.4"/>
<circle cx="957.42" cy="743.33" r="2.4"/>
<circle cx="958.31" cy="743.12" r="2.4"/>
<circle cx="959.2" cy="743.08" r="2.4"/>
<circle cx="960.09" cy="743.14" r="2.4"/>
<circle cx="960.98" cy="743.05" r="2.4"/>
<circle cx="961.87" cy="743.15" r="2.4"/>
<circle cx="962.76" cy="743.11" r="2.4"/>
<circle cx="963.65" cy="743.29" r="2.4"/>
<circle cx="964.53" cy="743.33" r="2.4"/>
<circle cx="965.42" cy="743.26" r="2.4"/>
<circle cx="966.31" cy="743.19" r="2.4"/>
<circle cx="967.2" cy="743.11" r="2.4"/>
<circle cx="968.09" cy="743.34" r="2.4"/>
<circle cx="968.98" cy="743.28" r="2.4"/>
<circle cx="969.87" cy="743.3" r="2.4"/>
<circle cx="970.76" cy="743.14" r="2.4"/>
<circle cx="971.65" cy="743.28" r="2.4"/>
<circle cx="972.53" cy="743.11" r="2.4"/>
<circle cx="973.42" cy="743.26" r="2.4"/>
<circle cx="974.31" cy="743.31" r="2.4"/>
<circle cx="975.2" cy="743.31" r="2.4"/>
<circle cx="976.09" cy="743.41" r="2.4"/>
<circle cx="976.98" cy="743.5" r="2.4"/>
<circle cx="977.87" cy="743.3" r="2.4"/>
<circle cx="978.76" cy="743.32" r="2.4"/>
<circle cx="979.65" cy="743.03" r="2.4"/>
<circle cx="980.54" cy="743.2" r="2.4"/>
<circle cx="981.42" cy="743.15" r="2.4"/>
<circle cx="982.31" cy="743.23" r="2.4"/>
<circle cx="983.2" cy="743.27" r="2.4"/>
<circle cx="984.09" cy="743.4" r="2.4"/>
<circle cx="984.98" cy="743.38" r="2.4"/>
<circle cx="985.87" cy="743.11" r="2.4"/>
<circle cx="986.76" cy="743.3" r="2.4"/>
<circle cx="987.65" cy="743.3" r="2.4"/>
<circle cx="988.54" cy="743.18" r="2.4"/>
<circle cx="989.43" cy="743.28" r="2.4"/>
<circle cx="990.31" cy="743.28" r="2.4"/>
<circle cx="991.2" cy="743.05" r="2.4"/>
<circle cx="992.09" cy="743.22" r="2.4"/>
<circle cx="992.98" cy="743.3" r="2.4"/>
<circle cx="993.87" cy="743.3" r="2.4"/>
<circle cx="994.76" cy="743.33" r="2.4"/>
<circle cx="995.65" cy="743.23" r="2.4"/>
<circle cx="996.54" cy="743.21" r="2.4"/>
<circle cx="997.43" cy="743.32" r="2.4"/>
<circle cx="998.31" cy="743.29" r="2.4"/>
<circle cx="999.2" cy="743.43" r="2.4"/>
<circle cx="1000.09" cy="743.3" r="2.4"/>
<circle cx="1000.98" cy="743.2" r="2.4"/>
<circle cx="1001.87" cy="743.37" r="2.4"/>
<circle cx="1002.76" cy="743.28" r="2.4"/>
<circle cx="1003.65" cy="743.34" r="2.4"/>
<circle cx="1004.54" cy="743.32" r="2.4"/>
<circle cx="1005.43" cy="743.24" r="2.4"/>
<circle cx="1006.32" cy="743.37" r="2.4"/>
<circle cx="1007.2" cy="743.16" r="2.4"/>
<circle cx="1008.09" cy="743.14" r="2.4"/>
<circle cx="1008.98" cy="743.15" r="2.4"/>
<circle cx="1009.87" cy="743.37" r="2.4"/>
<circle cx="1010.76" cy="743.47" r="2.4"/>
<circle cx="1011.65" cy="743.33" r="2.4"/>
<circle cx="1012.54" cy="743.26" r="2.4"/>
<circle cx="1013.43" cy="743.28" r="2.4"/>
<circle cx="1014.32" cy="743.3" r="2.4"/>
<circle cx="1015.21" cy="743.28" r="2.4"/>
<circle cx="1016.09" cy="743.32" r="2.4"/>
<circle cx="1016.98" cy="743.22" r="2.4"/>
<circle cx="1017.87" cy="743.43" r="2.4"/>
<circle cx="1018.76" cy="743.24" r="2.4"/>
<circle cx="1019.65" cy="743.23" r="2.4"/>
<circle cx="1020.54" cy="743.34" r="2.4"/>
<circle cx="1021.43" cy="742.91" r="2.4"/>
<circle cx="1022.32" cy="743.26" r="2.4"/>
<circle cx="1023.21" cy="743.26" r="2.4"/>
<circle cx="1024.09" cy="743.41" r="2.4"/>
<circle cx="1024.98" cy="743.26" r="2.4"/>
<circle cx="1025.87" cy="743.26" r="2.4"/>
<circle cx="1026.76" cy="743.17" r="2.4"/>
<circle cx="1027.65" cy="743.33" r="2.4"/>
<circle cx="1028.54" cy="743.17" r="2.4"/>
<circle cx="1029.43" cy="743.42" r="2.4"/>
<circle cx="1030.32" cy="743.28" r="2.4"/>
<circle cx="1031.21" cy="743.47" r="2.4"/>
<circle cx="1032.1" cy="743.29" r="2.4"/>
<circle cx="1032.98" cy="743.21" r="2.4"/>
<circle cx="1033.87" cy="743.44" r="2.4"/>
<circle cx="1034.76" cy="743.22" r="2.4"/>
<circle cx="1035.65" cy="743.24" r="2.4"/>
<circle cx="1036.54" cy="743.45" r="2.4"/>
<circle cx="1037.43" cy="743.39" r="2.4"/>
<circle cx="1038.32" cy="743.34" r="2.4"/>
<circle cx="1039.21" cy="743.24" r="2.4"/>
<circle cx="1040.1" cy="743.15" r="2.4"/>
<circle cx="1040.98" cy="743.36" r="2.4"/>
<circle cx="1041.87" cy="743.39" r="2.4"/>
<circle cx="1042.76" cy="743.33" r="2.4"/>
<circle cx="1043.65" cy="743.57" r="2.4"/>
<circle cx="1044.54" cy="743.25" r="2.4"/>
<circle cx="1045.43" cy="743.31" r="2.4"/>
<circle cx="1046.32" cy="743.32" r="2.4"/>
<circle cx="1047.21" cy="743.16" r="2.4"/>
<circle cx="1048.1" cy="743.32" r="2.4"/>
<circle cx="1048.99" cy="743.37" r="2.4"/>
<circle cx="1049.87" cy="743.19" r="2.4"/>
<circle cx="1050.76" cy="743.34" r="2.4"/>
<circle cx="1051.65" cy="743.29" r="2.4"/>
<circle cx="1052.54" cy="743.33" r="2.4"/>
<circle cx="1053.43" cy="743.3" r="2.4"/>
<circle cx="1054.32" cy="743.27" r="2.4"/>
<circle cx="1055.21" cy="743.26" r="2.4"/>
<circle cx="1056.1" cy="743.41" r="2.4"/>
<circle cx="1056.99" cy="743.16" r="2.4"/>
<circle cx="1057.88" cy="743.33" r="2.4"/>
<circle cx="1058.76" cy="743.34" r="2.4"/>
<circle cx="1059.65" cy="743.21" r="2.4"/>
<circle cx="1060.54" cy="743.34" r="2.4"/>
<circle cx="1061.43" cy="743.25" r="2.4"/>
<circle cx="1062.32" cy="743.18" r="2.4"/>
<circle cx="1063.21" cy="743.2" r="2.4"/>
<circle cx="1064.1" cy="743.34" r="2.4"/>
<circle cx="1064.99" cy="743.19" r="2.4"/>
<circle cx="1065.88" cy="743.32" r="2.4"/>
<circle cx="1066.76" cy="743.37" r="2.4"/>
<circle cx="1067.65" cy="743.38" r="2.4"/>
<circle cx="1068.54" cy="743.26" r="2.4"/>
<circle cx="1069.43" cy="743.36" r="2.4"/>
<circle cx="1070.32" cy="743.16" r="2.4"/>
<circle cx="1071.21" cy="743.21" r="2.4"/>
<circle cx="1072.1" cy="743.24" r="2.4"/>
<circle cx="1072.99" cy="743.18" r="2.4"/>
<circle cx="1073.88" cy="743.2" r="2.4"/>
<circle cx="1074.77" cy="743.37" r="2.4"/>
<circle cx="1075.65" cy="743.05" r="2.4"/>
<circle cx="1076.54" cy="743.44" r="2.4"/>
<circle cx="1077.43" cy="743.28" r="2.4"/>
<circle cx="1078.32" cy="743.48" r="2.4"/>
<circle cx="1079.21" cy="743.32" r="2.4"/>
<circle cx="1080.1" cy="743.34" r="2.4"/>
<circle cx="1080.99" cy="743.43" r="2.4"/>
<circle cx="1081.88" cy="743.24" r="2.4"/>
<circle cx="1082.77" cy="743.29" r="2.4"/>
<circle cx="1083.65" cy="743.3" r="2.4"/>
<circle cx="1084.54" cy="743.4" r="2.4"/>
<circle cx="1085.43" cy="743.16" r="2.4"/>
<circle cx="1086.32" cy="743.32" r="2.4"/>
<circle cx="1087.21" cy="743.22" r="2.4"/>
<circle cx="1088.1" cy="743.45" r="2.4"/>
<circle cx="1088.99" cy="743.16" r="2.4"/>
<circle cx="1089.88" cy="743.33" r="2.4"/>
<circle cx="1090.77" cy="743.2" r="2.4"/>
<circle cx="1091.66" cy="743.34" r="2.4"/>
<circle cx="1092.54" cy="743.3" r="2.4"/>
<circle cx="1093.43" cy="743.25" r="2.4"/>
<circle cx="1094.32" cy="743.3" r="2.4"/>
<circle cx="1095.21" cy="743.09" r="2.4"/>
<circle cx="1096.1" cy="743.31" r="2.4"/>
<circle cx="1096.99" cy="743.32" r="2.4"/>
<circle cx="1097.88" cy="743.19" r="2.4"/>
<circle cx="1098.77" cy="743.28" r="2.4"/>
<circle cx="1099.66" cy="743.39" r="2.4"/>
<circle cx="1100.55" cy="743.32" r="2.4"/>
<circle cx="1101.43" cy="743.22" r="2.4"/>
<circle cx="1102.32" cy="743.29" r="2.4"/>
<circle cx="1103.21" cy="743.18" r="2.4"/>
<circle cx="1104.1" cy="743.41" r="2.4"/>
</g>
</g>
</svg>
</body>
</html>
